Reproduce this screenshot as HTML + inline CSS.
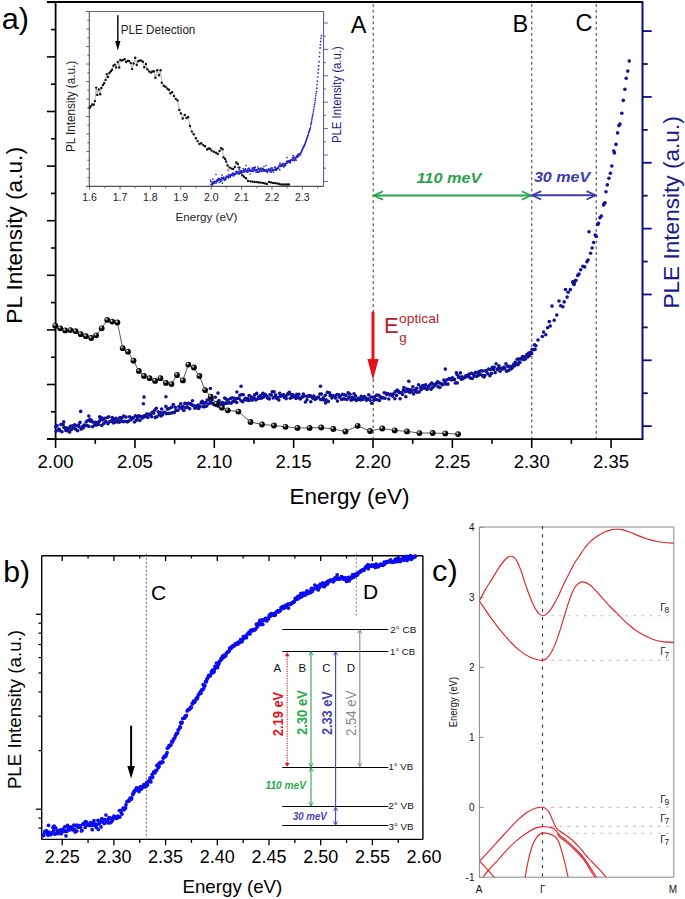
<!DOCTYPE html>
<html><head><meta charset="utf-8"><style>
html,body{margin:0;padding:0;background:#fff;}
body{width:685px;height:899px;overflow:hidden;}
svg{display:block;}
text{font-family:"Liberation Sans", sans-serif;}
</style></head><body>
<svg width="685" height="899" viewBox="0 0 685 899">
<defs>
<radialGradient id="ball" cx="0.36" cy="0.33" r="0.7">
<stop offset="0" stop-color="#fff"/><stop offset="0.18" stop-color="#888"/><stop offset="0.42" stop-color="#0a0a0a"/><stop offset="1" stop-color="#000"/>
</radialGradient>
<clipPath id="cclip"><rect x="479.4" y="527" width="194.4" height="350.2"/></clipPath>
</defs>
<rect width="685" height="899" fill="#fff"/>
<line x1="47.00" y1="2.00" x2="642.50" y2="2.00" stroke="#000" stroke-width="1.8" />
<line x1="55.60" y1="2.00" x2="55.60" y2="439.10" stroke="#000" stroke-width="1.8" />
<line x1="47.00" y1="439.10" x2="643.50" y2="439.10" stroke="#000" stroke-width="1.8" />
<line x1="642.50" y1="1.10" x2="642.50" y2="439.10" stroke="#0c0c84" stroke-width="2.0" />
<line x1="46.90" y1="439.10" x2="55.60" y2="439.10" stroke="#000" stroke-width="1.6" />
<line x1="51.00" y1="411.80" x2="55.60" y2="411.80" stroke="#000" stroke-width="1.6" />
<line x1="46.90" y1="384.50" x2="55.60" y2="384.50" stroke="#000" stroke-width="1.6" />
<line x1="51.00" y1="357.20" x2="55.60" y2="357.20" stroke="#000" stroke-width="1.6" />
<line x1="46.90" y1="329.90" x2="55.60" y2="329.90" stroke="#000" stroke-width="1.6" />
<line x1="51.00" y1="302.60" x2="55.60" y2="302.60" stroke="#000" stroke-width="1.6" />
<line x1="46.90" y1="275.30" x2="55.60" y2="275.30" stroke="#000" stroke-width="1.6" />
<line x1="51.00" y1="248.00" x2="55.60" y2="248.00" stroke="#000" stroke-width="1.6" />
<line x1="46.90" y1="220.70" x2="55.60" y2="220.70" stroke="#000" stroke-width="1.6" />
<line x1="51.00" y1="193.40" x2="55.60" y2="193.40" stroke="#000" stroke-width="1.6" />
<line x1="46.90" y1="166.10" x2="55.60" y2="166.10" stroke="#000" stroke-width="1.6" />
<line x1="51.00" y1="138.80" x2="55.60" y2="138.80" stroke="#000" stroke-width="1.6" />
<line x1="46.90" y1="111.50" x2="55.60" y2="111.50" stroke="#000" stroke-width="1.6" />
<line x1="51.00" y1="84.20" x2="55.60" y2="84.20" stroke="#000" stroke-width="1.6" />
<line x1="46.90" y1="56.90" x2="55.60" y2="56.90" stroke="#000" stroke-width="1.6" />
<line x1="51.00" y1="29.60" x2="55.60" y2="29.60" stroke="#000" stroke-width="1.6" />
<line x1="46.90" y1="2.30" x2="55.60" y2="2.30" stroke="#000" stroke-width="1.6" />
<line x1="55.60" y1="439.10" x2="55.60" y2="447.90" stroke="#000" stroke-width="1.6" />
<line x1="95.27" y1="439.10" x2="95.27" y2="443.80" stroke="#000" stroke-width="1.6" />
<line x1="134.95" y1="439.10" x2="134.95" y2="447.90" stroke="#000" stroke-width="1.6" />
<line x1="174.63" y1="439.10" x2="174.63" y2="443.80" stroke="#000" stroke-width="1.6" />
<line x1="214.30" y1="439.10" x2="214.30" y2="447.90" stroke="#000" stroke-width="1.6" />
<line x1="253.97" y1="439.10" x2="253.97" y2="443.80" stroke="#000" stroke-width="1.6" />
<line x1="293.65" y1="439.10" x2="293.65" y2="447.90" stroke="#000" stroke-width="1.6" />
<line x1="333.32" y1="439.10" x2="333.32" y2="443.80" stroke="#000" stroke-width="1.6" />
<line x1="373.00" y1="439.10" x2="373.00" y2="447.90" stroke="#000" stroke-width="1.6" />
<line x1="412.68" y1="439.10" x2="412.68" y2="443.80" stroke="#000" stroke-width="1.6" />
<line x1="452.35" y1="439.10" x2="452.35" y2="447.90" stroke="#000" stroke-width="1.6" />
<line x1="492.02" y1="439.10" x2="492.02" y2="443.80" stroke="#000" stroke-width="1.6" />
<line x1="531.70" y1="439.10" x2="531.70" y2="447.90" stroke="#000" stroke-width="1.6" />
<line x1="571.38" y1="439.10" x2="571.38" y2="443.80" stroke="#000" stroke-width="1.6" />
<line x1="611.05" y1="439.10" x2="611.05" y2="447.90" stroke="#000" stroke-width="1.6" />
<line x1="642.50" y1="31.10" x2="651.70" y2="31.10" stroke="#0c0c84" stroke-width="1.8" />
<line x1="642.50" y1="64.02" x2="647.70" y2="64.02" stroke="#0c0c84" stroke-width="1.8" />
<line x1="642.50" y1="96.94" x2="651.70" y2="96.94" stroke="#0c0c84" stroke-width="1.8" />
<line x1="642.50" y1="129.86" x2="647.70" y2="129.86" stroke="#0c0c84" stroke-width="1.8" />
<line x1="642.50" y1="162.78" x2="651.70" y2="162.78" stroke="#0c0c84" stroke-width="1.8" />
<line x1="642.50" y1="195.70" x2="647.70" y2="195.70" stroke="#0c0c84" stroke-width="1.8" />
<line x1="642.50" y1="228.62" x2="651.70" y2="228.62" stroke="#0c0c84" stroke-width="1.8" />
<line x1="642.50" y1="261.54" x2="647.70" y2="261.54" stroke="#0c0c84" stroke-width="1.8" />
<line x1="642.50" y1="294.46" x2="651.70" y2="294.46" stroke="#0c0c84" stroke-width="1.8" />
<line x1="642.50" y1="327.38" x2="647.70" y2="327.38" stroke="#0c0c84" stroke-width="1.8" />
<line x1="642.50" y1="360.30" x2="651.70" y2="360.30" stroke="#0c0c84" stroke-width="1.8" />
<line x1="642.50" y1="393.22" x2="647.70" y2="393.22" stroke="#0c0c84" stroke-width="1.8" />
<line x1="642.50" y1="426.14" x2="651.70" y2="426.14" stroke="#0c0c84" stroke-width="1.8" />
<text x="55.60" y="467.70" font-size="18.50" fill="#000" text-anchor="middle" font-weight="normal" font-style="normal" >2.00</text>
<text x="134.90" y="467.70" font-size="18.50" fill="#000" text-anchor="middle" font-weight="normal" font-style="normal" >2.05</text>
<text x="214.30" y="467.70" font-size="18.50" fill="#000" text-anchor="middle" font-weight="normal" font-style="normal" >2.10</text>
<text x="293.60" y="467.70" font-size="18.50" fill="#000" text-anchor="middle" font-weight="normal" font-style="normal" >2.15</text>
<text x="373.00" y="467.70" font-size="18.50" fill="#000" text-anchor="middle" font-weight="normal" font-style="normal" >2.20</text>
<text x="452.40" y="467.70" font-size="18.50" fill="#000" text-anchor="middle" font-weight="normal" font-style="normal" >2.25</text>
<text x="531.70" y="467.70" font-size="18.50" fill="#000" text-anchor="middle" font-weight="normal" font-style="normal" >2.30</text>
<text x="611.10" y="467.70" font-size="18.50" fill="#000" text-anchor="middle" font-weight="normal" font-style="normal" >2.35</text>
<text x="289.60" y="503.80" font-size="22.20" fill="#000" text-anchor="start" font-weight="normal" font-style="normal" textLength="119.83" lengthAdjust="spacingAndGlyphs" >Energy (eV)</text>
<text x="21.70" y="323.70" font-size="22.50" fill="#000" text-anchor="start" font-weight="normal" font-style="normal" textLength="176.65" lengthAdjust="spacingAndGlyphs" transform="rotate(-90 21.70 323.70)" >PL Intensity (a.u.)</text>
<text x="678.70" y="308.60" font-size="22.30" fill="#1a1a8c" text-anchor="start" font-weight="normal" font-style="normal" textLength="192.36" lengthAdjust="spacingAndGlyphs" transform="rotate(-90 678.70 308.60)" >PLE Intensity (a.u.)</text>
<text x="1.80" y="28.50" font-size="29.00" fill="#000" text-anchor="start" font-weight="normal" font-style="normal" textLength="27.31" lengthAdjust="spacingAndGlyphs" >a)</text>
<line x1="373.20" y1="4.10" x2="373.20" y2="438.10" stroke="#333" stroke-width="1.0" stroke-dasharray="2.8 2.97"/>
<line x1="531.80" y1="4.10" x2="531.80" y2="438.10" stroke="#333" stroke-width="1.0" stroke-dasharray="2.8 2.97"/>
<line x1="596.20" y1="4.10" x2="596.20" y2="438.10" stroke="#333" stroke-width="1.0" stroke-dasharray="2.8 2.97"/>
<text x="350.80" y="33.20" font-size="23.50" fill="#000" text-anchor="start" font-weight="normal" font-style="normal" >A</text>
<text x="512.60" y="31.80" font-size="23.50" fill="#000" text-anchor="start" font-weight="normal" font-style="normal" >B</text>
<text x="575.60" y="30.90" font-size="23.50" fill="#000" text-anchor="start" font-weight="normal" font-style="normal" >C</text>
<line x1="374.20" y1="195.50" x2="530.60" y2="195.50" stroke="#2ba24c" stroke-width="1.9" />
<polyline points="383.0,191.3 374.0,195.5 383.0,199.7" fill="none" stroke="#2ba24c" stroke-width="1.8" stroke-linejoin="miter"/>
<polyline points="521.8,191.3 530.8,195.5 521.8,199.7" fill="none" stroke="#2ba24c" stroke-width="1.8" stroke-linejoin="miter"/>
<line x1="532.20" y1="195.30" x2="595.30" y2="195.30" stroke="#3b3bb0" stroke-width="1.9" />
<polyline points="541.2,191.10000000000002 532.2,195.3 541.2,199.5" fill="none" stroke="#3b3bb0" stroke-width="1.8" stroke-linejoin="miter"/>
<polyline points="586.6,191.10000000000002 595.6,195.3 586.6,199.5" fill="none" stroke="#3b3bb0" stroke-width="1.8" stroke-linejoin="miter"/>
<text x="416.50" y="183.10" font-size="15.50" fill="#2ba24c" text-anchor="start" font-weight="bold" font-style="italic" textLength="64.94" lengthAdjust="spacingAndGlyphs" >110 meV</text>
<text x="533.90" y="181.60" font-size="15.50" fill="#3b3bb0" text-anchor="start" font-weight="bold" font-style="italic" textLength="56.44" lengthAdjust="spacingAndGlyphs" >30 meV</text>
<rect x="371.5" y="311.7" width="3" height="49" fill="#e3121b"/>
<polygon points="367.4,359.1 378.6,359.1 373,380" fill="#e3121b"/>
<text x="384.10" y="333.00" font-size="22.00" fill="#b0232a" text-anchor="start" font-weight="normal" font-style="normal" >E</text>
<text x="399.10" y="323.00" font-size="13.10" fill="#b0232a" text-anchor="start" font-weight="normal" font-style="normal" textLength="39.94" lengthAdjust="spacingAndGlyphs" >optical</text>
<text x="399.35" y="341.95" font-size="13.40" fill="#b0232a" text-anchor="start" font-weight="normal" font-style="normal" >g</text>
<g fill="#10109a">
<circle cx="55.6" cy="426.7" r="1.8"/>
<circle cx="56.2" cy="431.0" r="1.8"/>
<circle cx="57.1" cy="425.6" r="1.8"/>
<circle cx="58.4" cy="429.8" r="1.8"/>
<circle cx="59.0" cy="429.0" r="1.8"/>
<circle cx="60.0" cy="430.7" r="1.8"/>
<circle cx="61.0" cy="424.5" r="1.8"/>
<circle cx="62.0" cy="431.8" r="1.8"/>
<circle cx="63.1" cy="424.5" r="1.8"/>
<circle cx="64.0" cy="427.4" r="1.8"/>
<circle cx="65.2" cy="427.9" r="1.8"/>
<circle cx="65.8" cy="430.4" r="1.8"/>
<circle cx="66.8" cy="428.0" r="1.8"/>
<circle cx="68.0" cy="431.1" r="1.8"/>
<circle cx="68.9" cy="428.2" r="1.8"/>
<circle cx="69.7" cy="432.1" r="1.8"/>
<circle cx="70.4" cy="426.3" r="1.8"/>
<circle cx="71.5" cy="429.5" r="1.8"/>
<circle cx="72.5" cy="425.7" r="1.8"/>
<circle cx="73.6" cy="427.6" r="1.8"/>
<circle cx="74.7" cy="424.7" r="1.8"/>
<circle cx="75.6" cy="429.3" r="1.8"/>
<circle cx="76.4" cy="425.8" r="1.8"/>
<circle cx="77.6" cy="430.7" r="1.8"/>
<circle cx="78.6" cy="425.1" r="1.8"/>
<circle cx="79.0" cy="426.7" r="1.8"/>
<circle cx="80.0" cy="422.4" r="1.8"/>
<circle cx="81.1" cy="429.1" r="1.8"/>
<circle cx="82.3" cy="426.9" r="1.8"/>
<circle cx="83.1" cy="427.9" r="1.8"/>
<circle cx="84.1" cy="425.1" r="1.8"/>
<circle cx="85.0" cy="425.8" r="1.8"/>
<circle cx="86.1" cy="422.0" r="1.8"/>
<circle cx="87.1" cy="425.5" r="1.8"/>
<circle cx="87.5" cy="420.7" r="1.8"/>
<circle cx="88.9" cy="426.4" r="1.8"/>
<circle cx="89.9" cy="419.5" r="1.8"/>
<circle cx="90.5" cy="421.3" r="1.8"/>
<circle cx="91.3" cy="420.4" r="1.8"/>
<circle cx="92.5" cy="426.7" r="1.8"/>
<circle cx="93.2" cy="422.3" r="1.8"/>
<circle cx="94.6" cy="425.3" r="1.8"/>
<circle cx="95.3" cy="422.2" r="1.8"/>
<circle cx="96.6" cy="425.0" r="1.8"/>
<circle cx="97.3" cy="422.5" r="1.8"/>
<circle cx="98.5" cy="424.5" r="1.8"/>
<circle cx="99.1" cy="421.8" r="1.8"/>
<circle cx="100.1" cy="420.0" r="1.8"/>
<circle cx="101.4" cy="417.7" r="1.8"/>
<circle cx="101.8" cy="425.4" r="1.8"/>
<circle cx="102.8" cy="420.0" r="1.8"/>
<circle cx="103.9" cy="423.5" r="1.8"/>
<circle cx="104.6" cy="418.2" r="1.8"/>
<circle cx="105.8" cy="421.6" r="1.8"/>
<circle cx="107.1" cy="417.7" r="1.8"/>
<circle cx="107.9" cy="423.8" r="1.8"/>
<circle cx="108.8" cy="416.8" r="1.8"/>
<circle cx="109.4" cy="421.8" r="1.8"/>
<circle cx="110.8" cy="421.4" r="1.8"/>
<circle cx="111.7" cy="420.2" r="1.8"/>
<circle cx="112.3" cy="417.6" r="1.8"/>
<circle cx="113.5" cy="422.9" r="1.8"/>
<circle cx="114.2" cy="419.4" r="1.8"/>
<circle cx="115.1" cy="421.9" r="1.8"/>
<circle cx="116.0" cy="418.3" r="1.8"/>
<circle cx="117.0" cy="422.0" r="1.8"/>
<circle cx="117.9" cy="419.8" r="1.8"/>
<circle cx="119.4" cy="422.3" r="1.8"/>
<circle cx="120.0" cy="417.6" r="1.8"/>
<circle cx="121.0" cy="420.6" r="1.8"/>
<circle cx="122.2" cy="417.6" r="1.8"/>
<circle cx="123.2" cy="421.7" r="1.8"/>
<circle cx="123.7" cy="416.1" r="1.8"/>
<circle cx="124.6" cy="421.3" r="1.8"/>
<circle cx="126.0" cy="417.1" r="1.8"/>
<circle cx="126.5" cy="421.8" r="1.8"/>
<circle cx="127.7" cy="421.7" r="1.8"/>
<circle cx="128.4" cy="421.0" r="1.8"/>
<circle cx="129.6" cy="416.8" r="1.8"/>
<circle cx="130.8" cy="420.0" r="1.8"/>
<circle cx="131.4" cy="418.7" r="1.8"/>
<circle cx="132.4" cy="417.8" r="1.8"/>
<circle cx="133.4" cy="418.1" r="1.8"/>
<circle cx="134.5" cy="422.0" r="1.8"/>
<circle cx="135.5" cy="415.8" r="1.8"/>
<circle cx="136.5" cy="420.3" r="1.8"/>
<circle cx="137.4" cy="417.9" r="1.8"/>
<circle cx="138.3" cy="416.4" r="1.8"/>
<circle cx="139.0" cy="415.9" r="1.8"/>
<circle cx="139.8" cy="420.4" r="1.8"/>
<circle cx="140.9" cy="416.5" r="1.8"/>
<circle cx="142.1" cy="418.1" r="1.8"/>
<circle cx="143.2" cy="416.4" r="1.8"/>
<circle cx="144.1" cy="416.9" r="1.8"/>
<circle cx="144.6" cy="415.7" r="1.8"/>
<circle cx="145.6" cy="416.5" r="1.8"/>
<circle cx="146.8" cy="414.0" r="1.8"/>
<circle cx="147.9" cy="417.5" r="1.8"/>
<circle cx="148.7" cy="414.2" r="1.8"/>
<circle cx="149.7" cy="414.3" r="1.8"/>
<circle cx="150.7" cy="414.9" r="1.8"/>
<circle cx="151.6" cy="416.8" r="1.8"/>
<circle cx="152.2" cy="412.3" r="1.8"/>
<circle cx="153.5" cy="413.2" r="1.8"/>
<circle cx="154.6" cy="410.4" r="1.8"/>
<circle cx="155.2" cy="417.4" r="1.8"/>
<circle cx="156.3" cy="408.2" r="1.8"/>
<circle cx="157.0" cy="416.7" r="1.8"/>
<circle cx="158.3" cy="411.8" r="1.8"/>
<circle cx="159.2" cy="414.6" r="1.8"/>
<circle cx="160.3" cy="412.6" r="1.8"/>
<circle cx="161.0" cy="416.0" r="1.8"/>
<circle cx="161.7" cy="409.0" r="1.8"/>
<circle cx="162.6" cy="414.8" r="1.8"/>
<circle cx="163.8" cy="412.3" r="1.8"/>
<circle cx="165.0" cy="412.3" r="1.8"/>
<circle cx="165.9" cy="406.4" r="1.8"/>
<circle cx="166.5" cy="413.7" r="1.8"/>
<circle cx="167.4" cy="409.1" r="1.8"/>
<circle cx="168.6" cy="413.4" r="1.8"/>
<circle cx="169.3" cy="408.6" r="1.8"/>
<circle cx="170.7" cy="413.3" r="1.8"/>
<circle cx="171.5" cy="407.2" r="1.8"/>
<circle cx="172.6" cy="412.6" r="1.8"/>
<circle cx="173.3" cy="404.6" r="1.8"/>
<circle cx="174.3" cy="412.6" r="1.8"/>
<circle cx="175.2" cy="407.3" r="1.8"/>
<circle cx="176.0" cy="410.4" r="1.8"/>
<circle cx="176.9" cy="410.3" r="1.8"/>
<circle cx="178.0" cy="410.2" r="1.8"/>
<circle cx="178.9" cy="406.6" r="1.8"/>
<circle cx="180.0" cy="407.6" r="1.8"/>
<circle cx="180.7" cy="403.8" r="1.8"/>
<circle cx="181.9" cy="408.4" r="1.8"/>
<circle cx="183.0" cy="406.3" r="1.8"/>
<circle cx="183.8" cy="410.5" r="1.8"/>
<circle cx="184.9" cy="403.3" r="1.8"/>
<circle cx="185.6" cy="407.7" r="1.8"/>
<circle cx="186.6" cy="404.0" r="1.8"/>
<circle cx="187.7" cy="407.1" r="1.8"/>
<circle cx="188.5" cy="403.2" r="1.8"/>
<circle cx="189.7" cy="408.7" r="1.8"/>
<circle cx="190.7" cy="403.8" r="1.8"/>
<circle cx="191.2" cy="404.4" r="1.8"/>
<circle cx="192.5" cy="400.7" r="1.8"/>
<circle cx="193.0" cy="405.8" r="1.8"/>
<circle cx="193.9" cy="405.5" r="1.8"/>
<circle cx="195.0" cy="408.2" r="1.8"/>
<circle cx="196.3" cy="406.0" r="1.8"/>
<circle cx="197.3" cy="407.7" r="1.8"/>
<circle cx="198.1" cy="405.0" r="1.8"/>
<circle cx="198.7" cy="408.5" r="1.8"/>
<circle cx="199.7" cy="406.4" r="1.8"/>
<circle cx="201.1" cy="402.9" r="1.8"/>
<circle cx="202.1" cy="401.2" r="1.8"/>
<circle cx="202.9" cy="406.8" r="1.8"/>
<circle cx="203.7" cy="403.4" r="1.8"/>
<circle cx="204.6" cy="406.8" r="1.8"/>
<circle cx="205.7" cy="402.6" r="1.8"/>
<circle cx="206.3" cy="406.3" r="1.8"/>
<circle cx="207.2" cy="400.0" r="1.8"/>
<circle cx="208.3" cy="404.0" r="1.8"/>
<circle cx="209.1" cy="400.0" r="1.8"/>
<circle cx="210.6" cy="402.9" r="1.8"/>
<circle cx="211.1" cy="402.3" r="1.8"/>
<circle cx="212.1" cy="399.6" r="1.8"/>
<circle cx="213.1" cy="403.8" r="1.8"/>
<circle cx="213.9" cy="404.5" r="1.8"/>
<circle cx="215.3" cy="397.3" r="1.8"/>
<circle cx="215.9" cy="405.2" r="1.8"/>
<circle cx="217.0" cy="402.6" r="1.8"/>
<circle cx="218.1" cy="406.3" r="1.8"/>
<circle cx="219.0" cy="400.6" r="1.8"/>
<circle cx="219.8" cy="403.3" r="1.8"/>
<circle cx="220.9" cy="403.5" r="1.8"/>
<circle cx="221.9" cy="404.6" r="1.8"/>
<circle cx="222.4" cy="402.6" r="1.8"/>
<circle cx="223.9" cy="404.3" r="1.8"/>
<circle cx="224.6" cy="398.1" r="1.8"/>
<circle cx="225.8" cy="402.9" r="1.8"/>
<circle cx="226.5" cy="399.3" r="1.8"/>
<circle cx="227.3" cy="403.2" r="1.8"/>
<circle cx="228.1" cy="400.0" r="1.8"/>
<circle cx="229.2" cy="402.8" r="1.8"/>
<circle cx="230.5" cy="398.5" r="1.8"/>
<circle cx="231.1" cy="403.3" r="1.8"/>
<circle cx="232.1" cy="397.7" r="1.8"/>
<circle cx="232.9" cy="401.6" r="1.8"/>
<circle cx="234.2" cy="398.4" r="1.8"/>
<circle cx="235.1" cy="401.5" r="1.8"/>
<circle cx="236.3" cy="398.7" r="1.8"/>
<circle cx="236.7" cy="402.5" r="1.8"/>
<circle cx="237.9" cy="398.2" r="1.8"/>
<circle cx="239.1" cy="398.5" r="1.8"/>
<circle cx="239.9" cy="395.3" r="1.8"/>
<circle cx="241.0" cy="400.8" r="1.8"/>
<circle cx="241.8" cy="394.5" r="1.8"/>
<circle cx="242.7" cy="401.7" r="1.8"/>
<circle cx="243.3" cy="394.7" r="1.8"/>
<circle cx="244.3" cy="399.8" r="1.8"/>
<circle cx="245.4" cy="398.4" r="1.8"/>
<circle cx="246.2" cy="400.0" r="1.8"/>
<circle cx="247.6" cy="398.6" r="1.8"/>
<circle cx="248.5" cy="400.4" r="1.8"/>
<circle cx="249.2" cy="395.5" r="1.8"/>
<circle cx="250.2" cy="399.9" r="1.8"/>
<circle cx="251.1" cy="396.7" r="1.8"/>
<circle cx="252.4" cy="400.1" r="1.8"/>
<circle cx="252.9" cy="397.7" r="1.8"/>
<circle cx="254.3" cy="398.2" r="1.8"/>
<circle cx="254.7" cy="394.9" r="1.8"/>
<circle cx="255.9" cy="399.9" r="1.8"/>
<circle cx="256.7" cy="393.4" r="1.8"/>
<circle cx="257.9" cy="398.7" r="1.8"/>
<circle cx="258.6" cy="396.7" r="1.8"/>
<circle cx="259.7" cy="398.3" r="1.8"/>
<circle cx="260.6" cy="395.6" r="1.8"/>
<circle cx="261.5" cy="398.3" r="1.8"/>
<circle cx="262.8" cy="393.4" r="1.8"/>
<circle cx="263.6" cy="397.1" r="1.8"/>
<circle cx="264.4" cy="394.3" r="1.8"/>
<circle cx="265.3" cy="394.6" r="1.8"/>
<circle cx="266.5" cy="396.0" r="1.8"/>
<circle cx="267.4" cy="397.9" r="1.8"/>
<circle cx="268.5" cy="398.1" r="1.8"/>
<circle cx="269.3" cy="398.9" r="1.8"/>
<circle cx="270.0" cy="394.7" r="1.8"/>
<circle cx="271.2" cy="394.9" r="1.8"/>
<circle cx="272.3" cy="391.8" r="1.8"/>
<circle cx="273.2" cy="397.9" r="1.8"/>
<circle cx="274.1" cy="391.9" r="1.8"/>
<circle cx="275.1" cy="396.2" r="1.8"/>
<circle cx="275.7" cy="395.1" r="1.8"/>
<circle cx="276.8" cy="398.4" r="1.8"/>
<circle cx="277.8" cy="397.6" r="1.8"/>
<circle cx="278.8" cy="400.0" r="1.8"/>
<circle cx="279.7" cy="393.2" r="1.8"/>
<circle cx="280.4" cy="396.2" r="1.8"/>
<circle cx="281.6" cy="395.8" r="1.8"/>
<circle cx="282.6" cy="395.3" r="1.8"/>
<circle cx="283.6" cy="394.7" r="1.8"/>
<circle cx="284.3" cy="397.5" r="1.8"/>
<circle cx="285.5" cy="396.2" r="1.8"/>
<circle cx="286.2" cy="398.6" r="1.8"/>
<circle cx="287.3" cy="394.7" r="1.8"/>
<circle cx="288.2" cy="393.4" r="1.8"/>
<circle cx="289.4" cy="392.4" r="1.8"/>
<circle cx="290.2" cy="398.3" r="1.8"/>
<circle cx="290.9" cy="394.6" r="1.8"/>
<circle cx="291.9" cy="397.5" r="1.8"/>
<circle cx="293.0" cy="394.9" r="1.8"/>
<circle cx="293.7" cy="396.6" r="1.8"/>
<circle cx="295.0" cy="396.2" r="1.8"/>
<circle cx="296.0" cy="398.5" r="1.8"/>
<circle cx="296.8" cy="394.4" r="1.8"/>
<circle cx="297.7" cy="396.7" r="1.8"/>
<circle cx="298.9" cy="394.2" r="1.8"/>
<circle cx="299.5" cy="398.2" r="1.8"/>
<circle cx="300.3" cy="399.0" r="1.8"/>
<circle cx="301.5" cy="397.5" r="1.8"/>
<circle cx="302.5" cy="396.9" r="1.8"/>
<circle cx="303.3" cy="394.0" r="1.8"/>
<circle cx="304.2" cy="396.0" r="1.8"/>
<circle cx="305.4" cy="402.0" r="1.8"/>
<circle cx="306.6" cy="396.3" r="1.8"/>
<circle cx="307.0" cy="399.7" r="1.8"/>
<circle cx="308.4" cy="395.9" r="1.8"/>
<circle cx="309.3" cy="396.3" r="1.8"/>
<circle cx="310.1" cy="395.5" r="1.8"/>
<circle cx="310.8" cy="401.7" r="1.8"/>
<circle cx="312.0" cy="397.1" r="1.8"/>
<circle cx="312.8" cy="398.2" r="1.8"/>
<circle cx="313.8" cy="396.1" r="1.8"/>
<circle cx="315.1" cy="399.4" r="1.8"/>
<circle cx="316.0" cy="398.0" r="1.8"/>
<circle cx="316.5" cy="398.2" r="1.8"/>
<circle cx="317.9" cy="397.6" r="1.8"/>
<circle cx="318.5" cy="397.0" r="1.8"/>
<circle cx="319.9" cy="394.0" r="1.8"/>
<circle cx="320.6" cy="399.5" r="1.8"/>
<circle cx="321.4" cy="394.1" r="1.8"/>
<circle cx="322.2" cy="399.6" r="1.8"/>
<circle cx="323.3" cy="397.9" r="1.8"/>
<circle cx="324.6" cy="400.2" r="1.8"/>
<circle cx="325.3" cy="395.3" r="1.8"/>
<circle cx="326.1" cy="399.7" r="1.8"/>
<circle cx="327.4" cy="392.4" r="1.8"/>
<circle cx="328.3" cy="401.4" r="1.8"/>
<circle cx="329.4" cy="392.8" r="1.8"/>
<circle cx="330.1" cy="395.6" r="1.8"/>
<circle cx="331.1" cy="395.3" r="1.8"/>
<circle cx="331.9" cy="397.9" r="1.8"/>
<circle cx="332.8" cy="395.5" r="1.8"/>
<circle cx="333.6" cy="396.0" r="1.8"/>
<circle cx="334.8" cy="396.2" r="1.8"/>
<circle cx="335.7" cy="398.1" r="1.8"/>
<circle cx="337.0" cy="394.6" r="1.8"/>
<circle cx="337.5" cy="401.1" r="1.8"/>
<circle cx="338.6" cy="394.7" r="1.8"/>
<circle cx="339.5" cy="397.3" r="1.8"/>
<circle cx="340.3" cy="396.0" r="1.8"/>
<circle cx="341.7" cy="399.5" r="1.8"/>
<circle cx="342.6" cy="394.4" r="1.8"/>
<circle cx="343.6" cy="398.7" r="1.8"/>
<circle cx="344.1" cy="394.8" r="1.8"/>
<circle cx="345.0" cy="399.0" r="1.8"/>
<circle cx="346.0" cy="395.4" r="1.8"/>
<circle cx="347.0" cy="399.5" r="1.8"/>
<circle cx="348.2" cy="392.7" r="1.8"/>
<circle cx="349.0" cy="397.4" r="1.8"/>
<circle cx="349.9" cy="394.2" r="1.8"/>
<circle cx="350.9" cy="400.1" r="1.8"/>
<circle cx="352.2" cy="397.3" r="1.8"/>
<circle cx="352.6" cy="399.6" r="1.8"/>
<circle cx="354.0" cy="393.7" r="1.8"/>
<circle cx="354.6" cy="399.1" r="1.8"/>
<circle cx="355.6" cy="396.1" r="1.8"/>
<circle cx="356.6" cy="400.5" r="1.8"/>
<circle cx="357.8" cy="399.5" r="1.8"/>
<circle cx="358.3" cy="398.4" r="1.8"/>
<circle cx="359.7" cy="399.0" r="1.8"/>
<circle cx="360.4" cy="400.0" r="1.8"/>
<circle cx="361.3" cy="396.4" r="1.8"/>
<circle cx="362.6" cy="399.5" r="1.8"/>
<circle cx="363.6" cy="398.1" r="1.8"/>
<circle cx="364.1" cy="396.6" r="1.8"/>
<circle cx="365.2" cy="397.4" r="1.8"/>
<circle cx="366.3" cy="400.3" r="1.8"/>
<circle cx="367.2" cy="399.3" r="1.8"/>
<circle cx="368.2" cy="398.8" r="1.8"/>
<circle cx="368.7" cy="394.7" r="1.8"/>
<circle cx="370.1" cy="400.2" r="1.8"/>
<circle cx="371.0" cy="397.0" r="1.8"/>
<circle cx="371.7" cy="403.3" r="1.8"/>
<circle cx="372.9" cy="397.3" r="1.8"/>
<circle cx="373.9" cy="400.2" r="1.8"/>
<circle cx="374.7" cy="396.7" r="1.8"/>
<circle cx="375.7" cy="399.5" r="1.8"/>
<circle cx="376.7" cy="395.1" r="1.8"/>
<circle cx="377.3" cy="399.7" r="1.8"/>
<circle cx="378.8" cy="395.2" r="1.8"/>
<circle cx="379.5" cy="400.5" r="1.8"/>
<circle cx="380.2" cy="397.1" r="1.8"/>
<circle cx="381.2" cy="397.3" r="1.8"/>
<circle cx="382.2" cy="398.0" r="1.8"/>
<circle cx="383.0" cy="397.7" r="1.8"/>
<circle cx="384.2" cy="392.7" r="1.8"/>
<circle cx="385.0" cy="398.2" r="1.8"/>
<circle cx="385.9" cy="393.2" r="1.8"/>
<circle cx="386.8" cy="394.6" r="1.8"/>
<circle cx="388.1" cy="393.8" r="1.8"/>
<circle cx="388.8" cy="399.0" r="1.8"/>
<circle cx="389.9" cy="395.0" r="1.8"/>
<circle cx="390.7" cy="394.3" r="1.8"/>
<circle cx="392.0" cy="395.1" r="1.8"/>
<circle cx="392.6" cy="396.1" r="1.8"/>
<circle cx="393.6" cy="393.7" r="1.8"/>
<circle cx="394.9" cy="398.7" r="1.8"/>
<circle cx="395.4" cy="391.5" r="1.8"/>
<circle cx="396.5" cy="395.4" r="1.8"/>
<circle cx="397.3" cy="390.0" r="1.8"/>
<circle cx="398.4" cy="391.3" r="1.8"/>
<circle cx="399.2" cy="392.6" r="1.8"/>
<circle cx="400.1" cy="398.8" r="1.8"/>
<circle cx="401.5" cy="392.6" r="1.8"/>
<circle cx="402.5" cy="394.5" r="1.8"/>
<circle cx="403.5" cy="390.0" r="1.8"/>
<circle cx="404.0" cy="387.6" r="1.8"/>
<circle cx="405.2" cy="391.8" r="1.8"/>
<circle cx="405.8" cy="396.7" r="1.8"/>
<circle cx="406.9" cy="389.0" r="1.8"/>
<circle cx="407.8" cy="391.2" r="1.8"/>
<circle cx="408.8" cy="389.5" r="1.8"/>
<circle cx="409.8" cy="392.4" r="1.8"/>
<circle cx="411.1" cy="389.9" r="1.8"/>
<circle cx="411.6" cy="391.6" r="1.8"/>
<circle cx="412.9" cy="386.7" r="1.8"/>
<circle cx="413.6" cy="393.9" r="1.8"/>
<circle cx="414.5" cy="390.1" r="1.8"/>
<circle cx="415.8" cy="391.6" r="1.8"/>
<circle cx="416.7" cy="388.4" r="1.8"/>
<circle cx="417.2" cy="392.2" r="1.8"/>
<circle cx="418.6" cy="384.8" r="1.8"/>
<circle cx="419.1" cy="391.9" r="1.8"/>
<circle cx="420.6" cy="387.6" r="1.8"/>
<circle cx="421.1" cy="389.8" r="1.8"/>
<circle cx="422.1" cy="386.4" r="1.8"/>
<circle cx="423.0" cy="385.6" r="1.8"/>
<circle cx="424.0" cy="388.3" r="1.8"/>
<circle cx="425.2" cy="388.1" r="1.8"/>
<circle cx="425.7" cy="384.9" r="1.8"/>
<circle cx="427.1" cy="389.5" r="1.8"/>
<circle cx="428.2" cy="387.1" r="1.8"/>
<circle cx="428.6" cy="386.6" r="1.8"/>
<circle cx="430.1" cy="384.7" r="1.8"/>
<circle cx="431.0" cy="389.2" r="1.8"/>
<circle cx="431.7" cy="383.1" r="1.8"/>
<circle cx="432.6" cy="387.6" r="1.8"/>
<circle cx="433.8" cy="384.5" r="1.8"/>
<circle cx="434.7" cy="385.8" r="1.8"/>
<circle cx="435.6" cy="384.3" r="1.8"/>
<circle cx="436.3" cy="383.2" r="1.8"/>
<circle cx="437.6" cy="381.8" r="1.8"/>
<circle cx="438.1" cy="386.7" r="1.8"/>
<circle cx="439.1" cy="382.9" r="1.8"/>
<circle cx="440.0" cy="387.4" r="1.8"/>
<circle cx="441.1" cy="383.5" r="1.8"/>
<circle cx="442.4" cy="384.5" r="1.8"/>
<circle cx="443.0" cy="384.6" r="1.8"/>
<circle cx="443.8" cy="380.1" r="1.8"/>
<circle cx="445.1" cy="381.9" r="1.8"/>
<circle cx="445.9" cy="384.1" r="1.8"/>
<circle cx="447.0" cy="379.8" r="1.8"/>
<circle cx="448.0" cy="384.1" r="1.8"/>
<circle cx="448.9" cy="379.0" r="1.8"/>
<circle cx="449.5" cy="378.5" r="1.8"/>
<circle cx="450.7" cy="379.3" r="1.8"/>
<circle cx="451.6" cy="380.0" r="1.8"/>
<circle cx="452.4" cy="377.8" r="1.8"/>
<circle cx="453.4" cy="379.5" r="1.8"/>
<circle cx="454.5" cy="379.4" r="1.8"/>
<circle cx="455.3" cy="383.0" r="1.8"/>
<circle cx="456.4" cy="372.7" r="1.8"/>
<circle cx="457.2" cy="382.9" r="1.8"/>
<circle cx="458.6" cy="377.3" r="1.8"/>
<circle cx="459.0" cy="376.9" r="1.8"/>
<circle cx="460.4" cy="372.9" r="1.8"/>
<circle cx="461.4" cy="379.3" r="1.8"/>
<circle cx="461.9" cy="376.9" r="1.8"/>
<circle cx="462.9" cy="378.7" r="1.8"/>
<circle cx="464.3" cy="377.3" r="1.8"/>
<circle cx="464.9" cy="377.5" r="1.8"/>
<circle cx="465.8" cy="375.9" r="1.8"/>
<circle cx="467.0" cy="376.1" r="1.8"/>
<circle cx="467.9" cy="375.0" r="1.8"/>
<circle cx="468.8" cy="376.7" r="1.8"/>
<circle cx="469.5" cy="374.1" r="1.8"/>
<circle cx="470.5" cy="378.1" r="1.8"/>
<circle cx="471.7" cy="373.3" r="1.8"/>
<circle cx="472.4" cy="378.4" r="1.8"/>
<circle cx="473.6" cy="374.4" r="1.8"/>
<circle cx="474.3" cy="375.9" r="1.8"/>
<circle cx="475.6" cy="372.2" r="1.8"/>
<circle cx="476.4" cy="376.5" r="1.8"/>
<circle cx="477.2" cy="373.0" r="1.8"/>
<circle cx="478.3" cy="375.5" r="1.8"/>
<circle cx="479.0" cy="371.5" r="1.8"/>
<circle cx="480.3" cy="374.3" r="1.8"/>
<circle cx="481.0" cy="370.7" r="1.8"/>
<circle cx="482.3" cy="375.6" r="1.8"/>
<circle cx="482.9" cy="371.0" r="1.8"/>
<circle cx="483.9" cy="376.9" r="1.8"/>
<circle cx="484.8" cy="375.6" r="1.8"/>
<circle cx="485.7" cy="370.5" r="1.8"/>
<circle cx="486.5" cy="371.7" r="1.8"/>
<circle cx="488.0" cy="373.7" r="1.8"/>
<circle cx="488.6" cy="369.0" r="1.8"/>
<circle cx="489.9" cy="375.8" r="1.8"/>
<circle cx="490.3" cy="369.8" r="1.8"/>
<circle cx="491.6" cy="373.5" r="1.8"/>
<circle cx="492.3" cy="367.4" r="1.8"/>
<circle cx="493.5" cy="369.4" r="1.8"/>
<circle cx="494.2" cy="367.3" r="1.8"/>
<circle cx="495.2" cy="372.6" r="1.8"/>
<circle cx="496.1" cy="363.8" r="1.8"/>
<circle cx="497.2" cy="369.6" r="1.8"/>
<circle cx="498.0" cy="368.5" r="1.8"/>
<circle cx="498.9" cy="365.7" r="1.8"/>
<circle cx="500.1" cy="371.2" r="1.8"/>
<circle cx="500.8" cy="368.2" r="1.8"/>
<circle cx="502.2" cy="368.3" r="1.8"/>
<circle cx="503.0" cy="368.9" r="1.8"/>
<circle cx="504.1" cy="367.1" r="1.8"/>
<circle cx="504.7" cy="368.7" r="1.8"/>
<circle cx="506.0" cy="363.8" r="1.8"/>
<circle cx="506.6" cy="371.2" r="1.8"/>
<circle cx="507.7" cy="366.4" r="1.8"/>
<circle cx="508.6" cy="370.4" r="1.8"/>
<circle cx="509.7" cy="366.3" r="1.8"/>
<circle cx="510.8" cy="368.9" r="1.8"/>
<circle cx="511.7" cy="366.8" r="1.8"/>
<circle cx="512.2" cy="367.9" r="1.8"/>
<circle cx="513.5" cy="364.5" r="1.8"/>
<circle cx="514.4" cy="366.0" r="1.8"/>
<circle cx="515.3" cy="362.2" r="1.8"/>
<circle cx="516.3" cy="364.4" r="1.8"/>
<circle cx="517.2" cy="359.3" r="1.8"/>
<circle cx="518.1" cy="364.8" r="1.8"/>
<circle cx="519.1" cy="362.2" r="1.8"/>
<circle cx="519.9" cy="362.4" r="1.8"/>
<circle cx="521.0" cy="358.6" r="1.8"/>
<circle cx="521.8" cy="358.9" r="1.8"/>
<circle cx="522.7" cy="356.6" r="1.8"/>
<circle cx="523.8" cy="359.6" r="1.8"/>
<circle cx="524.8" cy="356.9" r="1.8"/>
<circle cx="525.5" cy="359.0" r="1.8"/>
<circle cx="526.8" cy="354.5" r="1.8"/>
<circle cx="527.8" cy="356.9" r="1.8"/>
<circle cx="528.6" cy="353.1" r="1.8"/>
<circle cx="529.5" cy="355.5" r="1.8"/>
<circle cx="530.7" cy="352.2" r="1.8"/>
<circle cx="531.7" cy="353.5" r="1.8"/>
<circle cx="532.2" cy="349.5" r="1.8"/>
<circle cx="533.6" cy="349.6" r="1.8"/>
<circle cx="534.5" cy="344.7" r="1.8"/>
<circle cx="535.0" cy="349.4" r="1.8"/>
<circle cx="535.9" cy="345.8" r="1.8"/>
<circle cx="538.0" cy="340.0" r="1.8"/>
<circle cx="542.3" cy="336.5" r="1.8"/>
<circle cx="545.8" cy="334.7" r="1.8"/>
<circle cx="543.6" cy="332.1" r="1.8"/>
<circle cx="547.6" cy="327.7" r="1.8"/>
<circle cx="550.2" cy="326.0" r="1.8"/>
<circle cx="549.3" cy="321.6" r="1.8"/>
<circle cx="554.2" cy="320.3" r="1.8"/>
<circle cx="556.8" cy="315.0" r="1.8"/>
<circle cx="552.0" cy="306.1" r="1.8"/>
<circle cx="562.9" cy="306.7" r="1.8"/>
<circle cx="560.7" cy="305.8" r="1.8"/>
<circle cx="564.2" cy="301.9" r="1.8"/>
<circle cx="559.0" cy="301.0" r="1.8"/>
<circle cx="567.1" cy="297.1" r="1.8"/>
<circle cx="568.2" cy="292.3" r="1.8"/>
<circle cx="570.4" cy="289.6" r="1.8"/>
<circle cx="565.5" cy="289.6" r="1.8"/>
<circle cx="573.9" cy="284.4" r="1.8"/>
<circle cx="573.0" cy="282.2" r="1.8"/>
<circle cx="575.2" cy="280.9" r="1.8"/>
<circle cx="574.2" cy="283.7" r="1.8"/>
<circle cx="572.8" cy="281.9" r="1.8"/>
<circle cx="575.9" cy="280.2" r="1.8"/>
<circle cx="577.7" cy="275.4" r="1.8"/>
<circle cx="579.0" cy="274.0" r="1.8"/>
<circle cx="580.7" cy="269.8" r="1.8"/>
<circle cx="582.9" cy="266.2" r="1.8"/>
<circle cx="584.7" cy="266.9" r="1.8"/>
<circle cx="586.9" cy="261.8" r="1.8"/>
<circle cx="588.0" cy="260.0" r="1.8"/>
<circle cx="590.6" cy="253.2" r="1.8"/>
<circle cx="592.1" cy="248.0" r="1.8"/>
<circle cx="593.6" cy="242.5" r="1.8"/>
<circle cx="595.2" cy="235.1" r="1.8"/>
<circle cx="596.3" cy="236.5" r="1.8"/>
<circle cx="589.0" cy="231.8" r="1.8"/>
<circle cx="597.8" cy="224.4" r="1.8"/>
<circle cx="598.4" cy="223.3" r="1.8"/>
<circle cx="600.0" cy="217.8" r="1.8"/>
<circle cx="601.3" cy="216.0" r="1.8"/>
<circle cx="603.6" cy="204.9" r="1.8"/>
<circle cx="604.4" cy="203.3" r="1.8"/>
<circle cx="605.0" cy="202.8" r="1.8"/>
<circle cx="606.0" cy="191.8" r="1.8"/>
<circle cx="607.3" cy="184.9" r="1.8"/>
<circle cx="608.9" cy="178.2" r="1.8"/>
<circle cx="610.4" cy="173.3" r="1.8"/>
<circle cx="611.8" cy="166.0" r="1.8"/>
<circle cx="613.8" cy="151.1" r="1.8"/>
<circle cx="614.4" cy="152.9" r="1.8"/>
<circle cx="616.0" cy="144.4" r="1.8"/>
<circle cx="617.6" cy="132.9" r="1.8"/>
<circle cx="618.9" cy="125.6" r="1.8"/>
<circle cx="620.0" cy="124.0" r="1.8"/>
<circle cx="621.8" cy="113.3" r="1.8"/>
<circle cx="623.3" cy="100.4" r="1.8"/>
<circle cx="624.9" cy="89.3" r="1.8"/>
<circle cx="626.2" cy="78.2" r="1.8"/>
<circle cx="627.8" cy="71.1" r="1.8"/>
<circle cx="629.3" cy="61.1" r="1.8"/>
<circle cx="63.7" cy="421.9" r="1.8"/>
<circle cx="80.7" cy="411.4" r="1.8"/>
<circle cx="88.8" cy="416.1" r="1.8"/>
<circle cx="99.6" cy="416.9" r="1.8"/>
<circle cx="144.0" cy="397.1" r="1.8"/>
<circle cx="165.9" cy="396.8" r="1.8"/>
<circle cx="143.4" cy="403.8" r="1.8"/>
<circle cx="210.4" cy="388.5" r="1.8"/>
<circle cx="218.0" cy="393.1" r="1.8"/>
<circle cx="241.1" cy="386.3" r="1.8"/>
<circle cx="236.9" cy="392.0" r="1.8"/>
<circle cx="320.5" cy="386.3" r="1.8"/>
<circle cx="325.6" cy="403.0" r="1.8"/>
<circle cx="408.8" cy="381.2" r="1.8"/>
<circle cx="445.3" cy="369.1" r="1.8"/>
<circle cx="457.0" cy="374.6" r="1.8"/>
<circle cx="519.0" cy="359.0" r="1.8"/>
</g>
<polyline points="55.3,325.7 60.2,328.3 65.2,330.4 70.4,330.1 75.7,331.2 80.7,334.2 85.9,336.2 91.2,338 96.1,335.3 101.7,328.3 107.2,319.9 112.2,321.6 117.4,322.5 122.7,348.2 128,351.7 133.5,360.7 138.8,371 144,375.9 149.6,378.2 155.1,380.9 160.4,378.2 165.9,382.9 171.5,384.1 177,375 182.9,380.4 188.3,364.6 193.9,367.5 199.4,376 205.1,390.1 210.7,396.7 216.2,403.7 221.9,407.7 227.7,410.3 238.4,411.6 250.5,422 262,424.5 273.9,425.5 285.5,426.8 297.5,427.9 309.6,427.9 321.2,427.5 333.3,429 345.4,431.5 357.6,425.8 370,431 382.3,428.5 394.7,430.4 407,431.4 419.4,433.1 432.6,433 445.3,433.4 458.1,434.1" fill="none" stroke="#222" stroke-width="0.75"/>
<g fill="url(#ball)">
<circle cx="55.3" cy="325.7" r="2.9"/>
<circle cx="60.2" cy="328.3" r="2.9"/>
<circle cx="65.2" cy="330.4" r="2.9"/>
<circle cx="70.4" cy="330.1" r="2.9"/>
<circle cx="75.7" cy="331.2" r="2.9"/>
<circle cx="80.7" cy="334.2" r="2.9"/>
<circle cx="85.9" cy="336.2" r="2.9"/>
<circle cx="91.2" cy="338" r="2.9"/>
<circle cx="96.1" cy="335.3" r="2.9"/>
<circle cx="101.7" cy="328.3" r="2.9"/>
<circle cx="107.2" cy="319.9" r="2.9"/>
<circle cx="112.2" cy="321.6" r="2.9"/>
<circle cx="117.4" cy="322.5" r="2.9"/>
<circle cx="122.7" cy="348.2" r="2.9"/>
<circle cx="128" cy="351.7" r="2.9"/>
<circle cx="133.5" cy="360.7" r="2.9"/>
<circle cx="138.8" cy="371" r="2.9"/>
<circle cx="144" cy="375.9" r="2.9"/>
<circle cx="149.6" cy="378.2" r="2.9"/>
<circle cx="155.1" cy="380.9" r="2.9"/>
<circle cx="160.4" cy="378.2" r="2.9"/>
<circle cx="165.9" cy="382.9" r="2.9"/>
<circle cx="171.5" cy="384.1" r="2.9"/>
<circle cx="177" cy="375" r="2.9"/>
<circle cx="182.9" cy="380.4" r="2.9"/>
<circle cx="188.3" cy="364.6" r="2.9"/>
<circle cx="193.9" cy="367.5" r="2.9"/>
<circle cx="199.4" cy="376" r="2.9"/>
<circle cx="205.1" cy="390.1" r="2.9"/>
<circle cx="210.7" cy="396.7" r="2.9"/>
<circle cx="216.2" cy="403.7" r="2.9"/>
<circle cx="221.9" cy="407.7" r="2.9"/>
<circle cx="227.7" cy="410.3" r="2.9"/>
<circle cx="238.4" cy="411.6" r="2.9"/>
<circle cx="250.5" cy="422" r="2.9"/>
<circle cx="262" cy="424.5" r="2.9"/>
<circle cx="273.9" cy="425.5" r="2.9"/>
<circle cx="285.5" cy="426.8" r="2.9"/>
<circle cx="297.5" cy="427.9" r="2.9"/>
<circle cx="309.6" cy="427.9" r="2.9"/>
<circle cx="321.2" cy="427.5" r="2.9"/>
<circle cx="333.3" cy="429" r="2.9"/>
<circle cx="345.4" cy="431.5" r="2.9"/>
<circle cx="357.6" cy="425.8" r="2.9"/>
<circle cx="370" cy="431" r="2.9"/>
<circle cx="382.3" cy="428.5" r="2.9"/>
<circle cx="394.7" cy="430.4" r="2.9"/>
<circle cx="407" cy="431.4" r="2.9"/>
<circle cx="419.4" cy="433.1" r="2.9"/>
<circle cx="432.6" cy="433" r="2.9"/>
<circle cx="445.3" cy="433.4" r="2.9"/>
<circle cx="458.1" cy="434.1" r="2.9"/>
</g>
<rect x="89.3" y="11.5" width="234.3" height="174.9" fill="#fff" stroke="none"/>
<line x1="85.80" y1="11.50" x2="323.60" y2="11.50" stroke="#666" stroke-width="1.1" />
<line x1="89.30" y1="11.50" x2="89.30" y2="186.40" stroke="#555" stroke-width="1.1" />
<line x1="86.30" y1="186.40" x2="323.60" y2="186.40" stroke="#555" stroke-width="1.1" />
<line x1="323.60" y1="11.50" x2="323.60" y2="186.40" stroke="#5050a0" stroke-width="1.0" />
<line x1="86.30" y1="186.40" x2="89.30" y2="186.40" stroke="#555" stroke-width="0.9" />
<line x1="87.30" y1="177.66" x2="89.30" y2="177.66" stroke="#555" stroke-width="0.9" />
<line x1="86.30" y1="168.92" x2="89.30" y2="168.92" stroke="#555" stroke-width="0.9" />
<line x1="87.30" y1="160.18" x2="89.30" y2="160.18" stroke="#555" stroke-width="0.9" />
<line x1="86.30" y1="151.44" x2="89.30" y2="151.44" stroke="#555" stroke-width="0.9" />
<line x1="87.30" y1="142.70" x2="89.30" y2="142.70" stroke="#555" stroke-width="0.9" />
<line x1="86.30" y1="133.96" x2="89.30" y2="133.96" stroke="#555" stroke-width="0.9" />
<line x1="87.30" y1="125.22" x2="89.30" y2="125.22" stroke="#555" stroke-width="0.9" />
<line x1="86.30" y1="116.48" x2="89.30" y2="116.48" stroke="#555" stroke-width="0.9" />
<line x1="87.30" y1="107.74" x2="89.30" y2="107.74" stroke="#555" stroke-width="0.9" />
<line x1="86.30" y1="99.00" x2="89.30" y2="99.00" stroke="#555" stroke-width="0.9" />
<line x1="87.30" y1="90.26" x2="89.30" y2="90.26" stroke="#555" stroke-width="0.9" />
<line x1="86.30" y1="81.52" x2="89.30" y2="81.52" stroke="#555" stroke-width="0.9" />
<line x1="87.30" y1="72.78" x2="89.30" y2="72.78" stroke="#555" stroke-width="0.9" />
<line x1="86.30" y1="64.04" x2="89.30" y2="64.04" stroke="#555" stroke-width="0.9" />
<line x1="87.30" y1="55.30" x2="89.30" y2="55.30" stroke="#555" stroke-width="0.9" />
<line x1="86.30" y1="46.56" x2="89.30" y2="46.56" stroke="#555" stroke-width="0.9" />
<line x1="87.30" y1="37.82" x2="89.30" y2="37.82" stroke="#555" stroke-width="0.9" />
<line x1="86.30" y1="29.08" x2="89.30" y2="29.08" stroke="#555" stroke-width="0.9" />
<line x1="87.30" y1="20.34" x2="89.30" y2="20.34" stroke="#555" stroke-width="0.9" />
<line x1="89.60" y1="186.40" x2="89.60" y2="189.70" stroke="#555" stroke-width="0.9" />
<line x1="104.80" y1="186.40" x2="104.80" y2="188.30" stroke="#555" stroke-width="0.9" />
<line x1="120.00" y1="186.40" x2="120.00" y2="189.70" stroke="#555" stroke-width="0.9" />
<line x1="135.20" y1="186.40" x2="135.20" y2="188.30" stroke="#555" stroke-width="0.9" />
<line x1="150.40" y1="186.40" x2="150.40" y2="189.70" stroke="#555" stroke-width="0.9" />
<line x1="165.60" y1="186.40" x2="165.60" y2="188.30" stroke="#555" stroke-width="0.9" />
<line x1="180.80" y1="186.40" x2="180.80" y2="189.70" stroke="#555" stroke-width="0.9" />
<line x1="196.00" y1="186.40" x2="196.00" y2="188.30" stroke="#555" stroke-width="0.9" />
<line x1="211.20" y1="186.40" x2="211.20" y2="189.70" stroke="#555" stroke-width="0.9" />
<line x1="226.40" y1="186.40" x2="226.40" y2="188.30" stroke="#555" stroke-width="0.9" />
<line x1="241.60" y1="186.40" x2="241.60" y2="189.70" stroke="#555" stroke-width="0.9" />
<line x1="256.80" y1="186.40" x2="256.80" y2="188.30" stroke="#555" stroke-width="0.9" />
<line x1="272.00" y1="186.40" x2="272.00" y2="189.70" stroke="#555" stroke-width="0.9" />
<line x1="287.20" y1="186.40" x2="287.20" y2="188.30" stroke="#555" stroke-width="0.9" />
<line x1="302.40" y1="186.40" x2="302.40" y2="189.70" stroke="#555" stroke-width="0.9" />
<line x1="317.60" y1="186.40" x2="317.60" y2="188.30" stroke="#555" stroke-width="0.9" />
<line x1="323.60" y1="23.00" x2="328.00" y2="23.00" stroke="#5050a0" stroke-width="0.9" />
<line x1="323.60" y1="36.20" x2="326.00" y2="36.20" stroke="#5050a0" stroke-width="0.9" />
<line x1="323.60" y1="49.40" x2="328.00" y2="49.40" stroke="#5050a0" stroke-width="0.9" />
<line x1="323.60" y1="62.60" x2="326.00" y2="62.60" stroke="#5050a0" stroke-width="0.9" />
<line x1="323.60" y1="75.80" x2="328.00" y2="75.80" stroke="#5050a0" stroke-width="0.9" />
<line x1="323.60" y1="89.00" x2="326.00" y2="89.00" stroke="#5050a0" stroke-width="0.9" />
<line x1="323.60" y1="102.20" x2="328.00" y2="102.20" stroke="#5050a0" stroke-width="0.9" />
<line x1="323.60" y1="115.40" x2="326.00" y2="115.40" stroke="#5050a0" stroke-width="0.9" />
<line x1="323.60" y1="128.60" x2="328.00" y2="128.60" stroke="#5050a0" stroke-width="0.9" />
<line x1="323.60" y1="141.80" x2="326.00" y2="141.80" stroke="#5050a0" stroke-width="0.9" />
<line x1="323.60" y1="155.00" x2="328.00" y2="155.00" stroke="#5050a0" stroke-width="0.9" />
<line x1="323.60" y1="168.20" x2="326.00" y2="168.20" stroke="#5050a0" stroke-width="0.9" />
<line x1="323.60" y1="181.40" x2="328.00" y2="181.40" stroke="#5050a0" stroke-width="0.9" />
<text x="89.60" y="201.20" font-size="10.50" fill="#222" text-anchor="middle" font-weight="normal" font-style="normal" >1.6</text>
<text x="120.00" y="201.20" font-size="10.50" fill="#222" text-anchor="middle" font-weight="normal" font-style="normal" >1.7</text>
<text x="150.40" y="201.20" font-size="10.50" fill="#222" text-anchor="middle" font-weight="normal" font-style="normal" >1.8</text>
<text x="180.80" y="201.20" font-size="10.50" fill="#222" text-anchor="middle" font-weight="normal" font-style="normal" >1.9</text>
<text x="211.20" y="201.20" font-size="10.50" fill="#222" text-anchor="middle" font-weight="normal" font-style="normal" >2.0</text>
<text x="241.60" y="201.20" font-size="10.50" fill="#222" text-anchor="middle" font-weight="normal" font-style="normal" >2.1</text>
<text x="272.00" y="201.20" font-size="10.50" fill="#222" text-anchor="middle" font-weight="normal" font-style="normal" >2.2</text>
<text x="302.40" y="201.20" font-size="10.50" fill="#222" text-anchor="middle" font-weight="normal" font-style="normal" >2.3</text>
<text x="175.60" y="220.50" font-size="11.80" fill="#222" text-anchor="start" font-weight="normal" font-style="normal" textLength="61.88" lengthAdjust="spacingAndGlyphs" >Energy (eV)</text>
<text x="75.40" y="152.00" font-size="12.00" fill="#222" text-anchor="start" font-weight="normal" font-style="normal" textLength="91.17" lengthAdjust="spacingAndGlyphs" transform="rotate(-90 75.40 152.00)" >PL Intensity (a.u.)</text>
<text x="340.70" y="143.10" font-size="12.00" fill="#1a1a8c" text-anchor="start" font-weight="normal" font-style="normal" textLength="96.82" lengthAdjust="spacingAndGlyphs" transform="rotate(-90 340.70 143.10)" >PLE Intensity (a.u.)</text>
<text x="120.80" y="33.50" font-size="12.00" fill="#222" text-anchor="start" font-weight="normal" font-style="normal" textLength="74.56" lengthAdjust="spacingAndGlyphs" >PLE Detection</text>
<line x1="117.80" y1="15.30" x2="117.80" y2="43.00" stroke="#000" stroke-width="1.4" />
<polygon points="115.1,40.9 120.5,40.9 117.8,50.6" fill="#000"/>
<polyline points="89.6,107.7 90.7,106.2 92.2,104.4 93.7,104.7 94.9,101.1 96.2,87.6 97.3,94.9 98.8,89.4 100.2,94.2 101.3,88 102.9,85 104.2,83.2 105.6,79.9 106.8,74.1 107.9,77 109.4,73 110.8,71.2 112.1,69.7 113.4,65.7 114.8,64.6 116.1,67.5 117.8,62 119.2,67.5 120.3,59.9 121.8,60.6 123.2,59.9 124.7,59.1 126.1,62 127.6,61 129.1,61 130.7,63.1 132.1,69.1 133.6,63.5 135.3,57.7 136.7,65 138.2,61.3 139.7,60.5 141.1,60.6 142.9,61.7 144.3,67.2 145.9,63.9 147.3,69.3 149.2,71.5 151,72.6 152.4,71.5 153.9,71.2 155.4,77.7 157.2,70.3 159,75.2 160.6,70.3 161.8,82.7 163.8,85.8 165.6,86.9 167.4,88.7 168.9,89.8 170.3,93.4 172.1,92.3 174,96 175.8,98.9 177.6,100.4 179.3,109.9 180.9,113.4 182.7,118.5 184.7,114.9 186.6,118 188.2,117 190,126 191.9,131.6 193.7,134.2 195.9,138.2 197.6,141.1 199.5,144 201.2,143.3 203.2,145.1 205,146.2 207.2,149.5 208.7,148.5 210.1,148.8 211.6,150.6 213.8,151.7 216,152.8 217.8,153.9 219.6,151 221.1,148.1 222.5,149.2 223.5,157.4 225.1,158.9 226.1,161.5 227.6,165.5 229.7,167.6 231.7,168.6 233.2,169.1 234.8,167.1 236.3,162.5 237.8,164 239.4,167.6 240.9,172.7 242.4,175.3 244,176.8 246,178.3 248.1,180.9 250.6,181.4 252.6,181.6 254.7,181.9 256.8,182.1 258.8,182.4 260.8,182.6 262.9,182.9 265,183.4 267,183.9 269,181.9 271,182.4 273.1,182.9 275.1,183.1 277.2,183.4 279.2,184 281.3,184.5 283.3,184.5 285.4,184.5 287.1,184.5 288.9,184.5" fill="none" stroke="#666" stroke-width="0.5"/>
<g fill="#111">
<circle cx="89.6" cy="107.7" r="1.2"/>
<circle cx="90.7" cy="106.2" r="1.2"/>
<circle cx="92.2" cy="104.4" r="1.2"/>
<circle cx="93.7" cy="104.7" r="1.2"/>
<circle cx="94.9" cy="101.1" r="1.2"/>
<circle cx="96.2" cy="87.6" r="1.2"/>
<circle cx="97.3" cy="94.9" r="1.2"/>
<circle cx="98.8" cy="89.4" r="1.2"/>
<circle cx="100.2" cy="94.2" r="1.2"/>
<circle cx="101.3" cy="88" r="1.2"/>
<circle cx="102.9" cy="85" r="1.2"/>
<circle cx="104.2" cy="83.2" r="1.2"/>
<circle cx="105.6" cy="79.9" r="1.2"/>
<circle cx="106.8" cy="74.1" r="1.2"/>
<circle cx="107.9" cy="77" r="1.2"/>
<circle cx="109.4" cy="73" r="1.2"/>
<circle cx="110.8" cy="71.2" r="1.2"/>
<circle cx="112.1" cy="69.7" r="1.2"/>
<circle cx="113.4" cy="65.7" r="1.2"/>
<circle cx="114.8" cy="64.6" r="1.2"/>
<circle cx="116.1" cy="67.5" r="1.2"/>
<circle cx="117.8" cy="62" r="1.2"/>
<circle cx="119.2" cy="67.5" r="1.2"/>
<circle cx="120.3" cy="59.9" r="1.2"/>
<circle cx="121.8" cy="60.6" r="1.2"/>
<circle cx="123.2" cy="59.9" r="1.2"/>
<circle cx="124.7" cy="59.1" r="1.2"/>
<circle cx="126.1" cy="62" r="1.2"/>
<circle cx="127.6" cy="61" r="1.2"/>
<circle cx="129.1" cy="61" r="1.2"/>
<circle cx="130.7" cy="63.1" r="1.2"/>
<circle cx="132.1" cy="69.1" r="1.2"/>
<circle cx="133.6" cy="63.5" r="1.2"/>
<circle cx="135.3" cy="57.7" r="1.2"/>
<circle cx="136.7" cy="65" r="1.2"/>
<circle cx="138.2" cy="61.3" r="1.2"/>
<circle cx="139.7" cy="60.5" r="1.2"/>
<circle cx="141.1" cy="60.6" r="1.2"/>
<circle cx="142.9" cy="61.7" r="1.2"/>
<circle cx="144.3" cy="67.2" r="1.2"/>
<circle cx="145.9" cy="63.9" r="1.2"/>
<circle cx="147.3" cy="69.3" r="1.2"/>
<circle cx="149.2" cy="71.5" r="1.2"/>
<circle cx="151" cy="72.6" r="1.2"/>
<circle cx="152.4" cy="71.5" r="1.2"/>
<circle cx="153.9" cy="71.2" r="1.2"/>
<circle cx="155.4" cy="77.7" r="1.2"/>
<circle cx="157.2" cy="70.3" r="1.2"/>
<circle cx="159" cy="75.2" r="1.2"/>
<circle cx="160.6" cy="70.3" r="1.2"/>
<circle cx="161.8" cy="82.7" r="1.2"/>
<circle cx="163.8" cy="85.8" r="1.2"/>
<circle cx="165.6" cy="86.9" r="1.2"/>
<circle cx="167.4" cy="88.7" r="1.2"/>
<circle cx="168.9" cy="89.8" r="1.2"/>
<circle cx="170.3" cy="93.4" r="1.2"/>
<circle cx="172.1" cy="92.3" r="1.2"/>
<circle cx="174" cy="96" r="1.2"/>
<circle cx="175.8" cy="98.9" r="1.2"/>
<circle cx="177.6" cy="100.4" r="1.2"/>
<circle cx="179.3" cy="109.9" r="1.2"/>
<circle cx="180.9" cy="113.4" r="1.2"/>
<circle cx="182.7" cy="118.5" r="1.2"/>
<circle cx="184.7" cy="114.9" r="1.2"/>
<circle cx="186.6" cy="118" r="1.2"/>
<circle cx="188.2" cy="117" r="1.2"/>
<circle cx="190" cy="126" r="1.2"/>
<circle cx="191.9" cy="131.6" r="1.2"/>
<circle cx="193.7" cy="134.2" r="1.2"/>
<circle cx="195.9" cy="138.2" r="1.2"/>
<circle cx="197.6" cy="141.1" r="1.2"/>
<circle cx="199.5" cy="144" r="1.2"/>
<circle cx="201.2" cy="143.3" r="1.2"/>
<circle cx="203.2" cy="145.1" r="1.2"/>
<circle cx="205" cy="146.2" r="1.2"/>
<circle cx="207.2" cy="149.5" r="1.2"/>
<circle cx="208.7" cy="148.5" r="1.2"/>
<circle cx="210.1" cy="148.8" r="1.2"/>
<circle cx="211.6" cy="150.6" r="1.2"/>
<circle cx="213.8" cy="151.7" r="1.2"/>
<circle cx="216" cy="152.8" r="1.2"/>
<circle cx="217.8" cy="153.9" r="1.2"/>
<circle cx="219.6" cy="151" r="1.2"/>
<circle cx="221.1" cy="148.1" r="1.2"/>
<circle cx="222.5" cy="149.2" r="1.2"/>
<circle cx="223.5" cy="157.4" r="1.2"/>
<circle cx="225.1" cy="158.9" r="1.2"/>
<circle cx="226.1" cy="161.5" r="1.2"/>
<circle cx="227.6" cy="165.5" r="1.2"/>
<circle cx="229.7" cy="167.6" r="1.2"/>
<circle cx="231.7" cy="168.6" r="1.2"/>
<circle cx="233.2" cy="169.1" r="1.2"/>
<circle cx="234.8" cy="167.1" r="1.2"/>
<circle cx="236.3" cy="162.5" r="1.2"/>
<circle cx="237.8" cy="164" r="1.2"/>
<circle cx="239.4" cy="167.6" r="1.2"/>
<circle cx="240.9" cy="172.7" r="1.2"/>
<circle cx="242.4" cy="175.3" r="1.2"/>
<circle cx="244" cy="176.8" r="1.2"/>
<circle cx="246" cy="178.3" r="1.2"/>
<circle cx="248.1" cy="180.9" r="1.2"/>
<circle cx="250.6" cy="181.4" r="1.2"/>
<circle cx="252.6" cy="181.6" r="1.2"/>
<circle cx="254.7" cy="181.9" r="1.2"/>
<circle cx="256.8" cy="182.1" r="1.2"/>
<circle cx="258.8" cy="182.4" r="1.2"/>
<circle cx="260.8" cy="182.6" r="1.2"/>
<circle cx="262.9" cy="182.9" r="1.2"/>
<circle cx="265" cy="183.4" r="1.2"/>
<circle cx="267" cy="183.9" r="1.2"/>
<circle cx="269" cy="181.9" r="1.2"/>
<circle cx="271" cy="182.4" r="1.2"/>
<circle cx="273.1" cy="182.9" r="1.2"/>
<circle cx="275.1" cy="183.1" r="1.2"/>
<circle cx="277.2" cy="183.4" r="1.2"/>
<circle cx="279.2" cy="184" r="1.2"/>
<circle cx="281.3" cy="184.5" r="1.2"/>
<circle cx="283.3" cy="184.5" r="1.2"/>
<circle cx="285.4" cy="184.5" r="1.2"/>
<circle cx="287.1" cy="184.5" r="1.2"/>
<circle cx="288.9" cy="184.5" r="1.2"/>
</g>
<g fill="#2424c8">
<circle cx="210.50" cy="180.1" r="0.85"/>
<circle cx="210.83" cy="181.6" r="0.85"/>
<circle cx="211.16" cy="184.5" r="0.85"/>
<circle cx="211.49" cy="184.2" r="0.85"/>
<circle cx="211.82" cy="184.9" r="0.85"/>
<circle cx="212.15" cy="182.1" r="0.85"/>
<circle cx="212.48" cy="184.7" r="0.85"/>
<circle cx="212.81" cy="183.2" r="0.85"/>
<circle cx="213.14" cy="183.4" r="0.85"/>
<circle cx="213.47" cy="182.8" r="0.85"/>
<circle cx="213.80" cy="181.5" r="0.85"/>
<circle cx="214.13" cy="181.7" r="0.85"/>
<circle cx="214.46" cy="183.3" r="0.85"/>
<circle cx="214.79" cy="181.5" r="0.85"/>
<circle cx="215.12" cy="181.8" r="0.85"/>
<circle cx="215.45" cy="181.7" r="0.85"/>
<circle cx="215.78" cy="182.0" r="0.85"/>
<circle cx="216.11" cy="183.0" r="0.85"/>
<circle cx="216.44" cy="180.3" r="0.85"/>
<circle cx="216.77" cy="181.6" r="0.85"/>
<circle cx="217.10" cy="180.4" r="0.85"/>
<circle cx="217.43" cy="180.9" r="0.85"/>
<circle cx="217.76" cy="180.0" r="0.85"/>
<circle cx="218.09" cy="178.7" r="0.85"/>
<circle cx="218.42" cy="180.1" r="0.85"/>
<circle cx="218.75" cy="178.7" r="0.85"/>
<circle cx="219.08" cy="182.3" r="0.85"/>
<circle cx="219.41" cy="178.5" r="0.85"/>
<circle cx="219.74" cy="179.4" r="0.85"/>
<circle cx="220.07" cy="180.4" r="0.85"/>
<circle cx="220.40" cy="179.4" r="0.85"/>
<circle cx="220.73" cy="181.5" r="0.85"/>
<circle cx="221.06" cy="179.5" r="0.85"/>
<circle cx="221.39" cy="177.7" r="0.85"/>
<circle cx="221.72" cy="180.8" r="0.85"/>
<circle cx="222.05" cy="178.9" r="0.85"/>
<circle cx="222.38" cy="183.1" r="0.85"/>
<circle cx="222.71" cy="177.9" r="0.85"/>
<circle cx="223.04" cy="178.2" r="0.85"/>
<circle cx="223.37" cy="178.8" r="0.85"/>
<circle cx="223.70" cy="177.1" r="0.85"/>
<circle cx="224.03" cy="179.3" r="0.85"/>
<circle cx="224.36" cy="180.1" r="0.85"/>
<circle cx="224.69" cy="180.3" r="0.85"/>
<circle cx="225.02" cy="178.6" r="0.85"/>
<circle cx="225.35" cy="177.7" r="0.85"/>
<circle cx="225.68" cy="179.4" r="0.85"/>
<circle cx="226.01" cy="179.1" r="0.85"/>
<circle cx="226.34" cy="177.1" r="0.85"/>
<circle cx="226.67" cy="176.5" r="0.85"/>
<circle cx="227.00" cy="175.9" r="0.85"/>
<circle cx="227.33" cy="177.1" r="0.85"/>
<circle cx="227.66" cy="176.6" r="0.85"/>
<circle cx="227.99" cy="177.5" r="0.85"/>
<circle cx="228.32" cy="177.7" r="0.85"/>
<circle cx="228.65" cy="174.7" r="0.85"/>
<circle cx="228.98" cy="176.6" r="0.85"/>
<circle cx="229.31" cy="176.4" r="0.85"/>
<circle cx="229.64" cy="175.2" r="0.85"/>
<circle cx="229.97" cy="175.8" r="0.85"/>
<circle cx="230.30" cy="177.2" r="0.85"/>
<circle cx="230.63" cy="175.3" r="0.85"/>
<circle cx="230.96" cy="175.0" r="0.85"/>
<circle cx="231.29" cy="174.5" r="0.85"/>
<circle cx="231.62" cy="175.3" r="0.85"/>
<circle cx="231.95" cy="174.1" r="0.85"/>
<circle cx="232.28" cy="175.3" r="0.85"/>
<circle cx="232.61" cy="173.0" r="0.85"/>
<circle cx="232.94" cy="173.6" r="0.85"/>
<circle cx="233.27" cy="174.8" r="0.85"/>
<circle cx="233.60" cy="176.0" r="0.85"/>
<circle cx="233.93" cy="173.4" r="0.85"/>
<circle cx="234.26" cy="174.2" r="0.85"/>
<circle cx="234.59" cy="174.8" r="0.85"/>
<circle cx="234.92" cy="173.5" r="0.85"/>
<circle cx="235.25" cy="174.1" r="0.85"/>
<circle cx="235.58" cy="174.1" r="0.85"/>
<circle cx="235.91" cy="171.9" r="0.85"/>
<circle cx="236.24" cy="171.4" r="0.85"/>
<circle cx="236.57" cy="173.6" r="0.85"/>
<circle cx="236.90" cy="172.0" r="0.85"/>
<circle cx="237.23" cy="173.1" r="0.85"/>
<circle cx="237.56" cy="173.3" r="0.85"/>
<circle cx="237.89" cy="171.9" r="0.85"/>
<circle cx="238.22" cy="171.6" r="0.85"/>
<circle cx="238.55" cy="171.7" r="0.85"/>
<circle cx="238.88" cy="174.2" r="0.85"/>
<circle cx="239.21" cy="169.7" r="0.85"/>
<circle cx="239.54" cy="173.5" r="0.85"/>
<circle cx="239.87" cy="172.3" r="0.85"/>
<circle cx="240.20" cy="171.3" r="0.85"/>
<circle cx="240.53" cy="172.5" r="0.85"/>
<circle cx="240.86" cy="171.9" r="0.85"/>
<circle cx="241.19" cy="170.7" r="0.85"/>
<circle cx="241.52" cy="171.6" r="0.85"/>
<circle cx="241.85" cy="171.8" r="0.85"/>
<circle cx="242.18" cy="172.2" r="0.85"/>
<circle cx="242.51" cy="171.6" r="0.85"/>
<circle cx="242.84" cy="171.3" r="0.85"/>
<circle cx="243.17" cy="168.5" r="0.85"/>
<circle cx="243.50" cy="170.3" r="0.85"/>
<circle cx="243.83" cy="171.7" r="0.85"/>
<circle cx="244.16" cy="171.8" r="0.85"/>
<circle cx="244.49" cy="169.8" r="0.85"/>
<circle cx="244.82" cy="169.9" r="0.85"/>
<circle cx="245.15" cy="169.3" r="0.85"/>
<circle cx="245.48" cy="168.9" r="0.85"/>
<circle cx="245.81" cy="171.2" r="0.85"/>
<circle cx="246.14" cy="171.6" r="0.85"/>
<circle cx="246.47" cy="170.5" r="0.85"/>
<circle cx="246.80" cy="170.9" r="0.85"/>
<circle cx="247.13" cy="172.3" r="0.85"/>
<circle cx="247.46" cy="169.0" r="0.85"/>
<circle cx="247.79" cy="170.4" r="0.85"/>
<circle cx="248.12" cy="170.3" r="0.85"/>
<circle cx="248.45" cy="171.6" r="0.85"/>
<circle cx="248.78" cy="168.6" r="0.85"/>
<circle cx="249.11" cy="168.2" r="0.85"/>
<circle cx="249.44" cy="170.7" r="0.85"/>
<circle cx="249.77" cy="169.4" r="0.85"/>
<circle cx="250.10" cy="170.5" r="0.85"/>
<circle cx="250.43" cy="170.9" r="0.85"/>
<circle cx="250.76" cy="170.7" r="0.85"/>
<circle cx="251.09" cy="171.2" r="0.85"/>
<circle cx="251.42" cy="170.3" r="0.85"/>
<circle cx="251.75" cy="170.0" r="0.85"/>
<circle cx="252.08" cy="168.0" r="0.85"/>
<circle cx="252.41" cy="171.1" r="0.85"/>
<circle cx="252.74" cy="168.2" r="0.85"/>
<circle cx="253.07" cy="169.7" r="0.85"/>
<circle cx="253.40" cy="171.5" r="0.85"/>
<circle cx="253.73" cy="167.7" r="0.85"/>
<circle cx="254.06" cy="170.7" r="0.85"/>
<circle cx="254.39" cy="168.7" r="0.85"/>
<circle cx="254.72" cy="169.6" r="0.85"/>
<circle cx="255.05" cy="167.6" r="0.85"/>
<circle cx="255.38" cy="167.0" r="0.85"/>
<circle cx="255.71" cy="170.2" r="0.85"/>
<circle cx="256.04" cy="172.2" r="0.85"/>
<circle cx="256.37" cy="170.7" r="0.85"/>
<circle cx="256.70" cy="169.8" r="0.85"/>
<circle cx="257.03" cy="169.9" r="0.85"/>
<circle cx="257.36" cy="171.9" r="0.85"/>
<circle cx="257.69" cy="171.8" r="0.85"/>
<circle cx="258.02" cy="169.0" r="0.85"/>
<circle cx="258.35" cy="168.6" r="0.85"/>
<circle cx="258.68" cy="172.2" r="0.85"/>
<circle cx="259.01" cy="169.4" r="0.85"/>
<circle cx="259.34" cy="170.7" r="0.85"/>
<circle cx="259.67" cy="171.4" r="0.85"/>
<circle cx="260.00" cy="168.9" r="0.85"/>
<circle cx="260.33" cy="169.3" r="0.85"/>
<circle cx="260.66" cy="168.2" r="0.85"/>
<circle cx="260.99" cy="171.5" r="0.85"/>
<circle cx="261.32" cy="169.8" r="0.85"/>
<circle cx="261.65" cy="171.1" r="0.85"/>
<circle cx="261.98" cy="168.4" r="0.85"/>
<circle cx="262.31" cy="171.0" r="0.85"/>
<circle cx="262.64" cy="169.1" r="0.85"/>
<circle cx="262.97" cy="169.9" r="0.85"/>
<circle cx="263.30" cy="168.5" r="0.85"/>
<circle cx="263.63" cy="169.9" r="0.85"/>
<circle cx="263.96" cy="171.1" r="0.85"/>
<circle cx="264.29" cy="169.9" r="0.85"/>
<circle cx="264.62" cy="169.9" r="0.85"/>
<circle cx="264.95" cy="170.9" r="0.85"/>
<circle cx="265.28" cy="170.0" r="0.85"/>
<circle cx="265.61" cy="171.0" r="0.85"/>
<circle cx="265.94" cy="170.5" r="0.85"/>
<circle cx="266.27" cy="171.5" r="0.85"/>
<circle cx="266.60" cy="169.9" r="0.85"/>
<circle cx="266.93" cy="170.6" r="0.85"/>
<circle cx="267.26" cy="170.7" r="0.85"/>
<circle cx="267.59" cy="172.4" r="0.85"/>
<circle cx="267.92" cy="171.0" r="0.85"/>
<circle cx="268.25" cy="169.2" r="0.85"/>
<circle cx="268.58" cy="169.0" r="0.85"/>
<circle cx="268.91" cy="170.5" r="0.85"/>
<circle cx="269.24" cy="170.1" r="0.85"/>
<circle cx="269.57" cy="169.5" r="0.85"/>
<circle cx="269.90" cy="169.9" r="0.85"/>
<circle cx="270.23" cy="171.6" r="0.85"/>
<circle cx="270.56" cy="168.4" r="0.85"/>
<circle cx="270.89" cy="171.0" r="0.85"/>
<circle cx="271.22" cy="170.2" r="0.85"/>
<circle cx="271.55" cy="172.3" r="0.85"/>
<circle cx="271.88" cy="168.1" r="0.85"/>
<circle cx="272.21" cy="170.7" r="0.85"/>
<circle cx="272.54" cy="169.7" r="0.85"/>
<circle cx="272.87" cy="170.0" r="0.85"/>
<circle cx="273.20" cy="170.3" r="0.85"/>
<circle cx="273.53" cy="172.0" r="0.85"/>
<circle cx="273.86" cy="169.9" r="0.85"/>
<circle cx="274.19" cy="170.0" r="0.85"/>
<circle cx="274.52" cy="167.4" r="0.85"/>
<circle cx="274.85" cy="169.8" r="0.85"/>
<circle cx="275.18" cy="167.2" r="0.85"/>
<circle cx="275.51" cy="168.6" r="0.85"/>
<circle cx="275.84" cy="169.2" r="0.85"/>
<circle cx="276.17" cy="170.2" r="0.85"/>
<circle cx="276.50" cy="169.6" r="0.85"/>
<circle cx="276.83" cy="168.5" r="0.85"/>
<circle cx="277.16" cy="169.1" r="0.85"/>
<circle cx="277.49" cy="167.7" r="0.85"/>
<circle cx="277.82" cy="167.9" r="0.85"/>
<circle cx="278.15" cy="167.6" r="0.85"/>
<circle cx="278.48" cy="168.5" r="0.85"/>
<circle cx="278.81" cy="167.0" r="0.85"/>
<circle cx="279.14" cy="165.8" r="0.85"/>
<circle cx="279.47" cy="165.4" r="0.85"/>
<circle cx="279.80" cy="169.7" r="0.85"/>
<circle cx="280.13" cy="164.0" r="0.85"/>
<circle cx="280.46" cy="166.3" r="0.85"/>
<circle cx="280.79" cy="165.9" r="0.85"/>
<circle cx="281.12" cy="165.7" r="0.85"/>
<circle cx="281.45" cy="164.6" r="0.85"/>
<circle cx="281.78" cy="166.3" r="0.85"/>
<circle cx="282.11" cy="165.5" r="0.85"/>
<circle cx="282.44" cy="164.0" r="0.85"/>
<circle cx="282.77" cy="164.5" r="0.85"/>
<circle cx="283.10" cy="163.3" r="0.85"/>
<circle cx="283.43" cy="165.2" r="0.85"/>
<circle cx="283.76" cy="167.0" r="0.85"/>
<circle cx="284.09" cy="166.3" r="0.85"/>
<circle cx="284.42" cy="165.4" r="0.85"/>
<circle cx="284.75" cy="163.9" r="0.85"/>
<circle cx="285.08" cy="163.7" r="0.85"/>
<circle cx="285.41" cy="164.1" r="0.85"/>
<circle cx="285.74" cy="165.4" r="0.85"/>
<circle cx="286.07" cy="163.3" r="0.85"/>
<circle cx="286.40" cy="163.0" r="0.85"/>
<circle cx="286.73" cy="161.3" r="0.85"/>
<circle cx="287.06" cy="162.7" r="0.85"/>
<circle cx="287.39" cy="162.7" r="0.85"/>
<circle cx="287.72" cy="161.5" r="0.85"/>
<circle cx="288.05" cy="160.9" r="0.85"/>
<circle cx="288.38" cy="162.0" r="0.85"/>
<circle cx="288.71" cy="162.2" r="0.85"/>
<circle cx="289.04" cy="160.7" r="0.85"/>
<circle cx="289.37" cy="162.4" r="0.85"/>
<circle cx="289.70" cy="160.9" r="0.85"/>
<circle cx="290.03" cy="161.5" r="0.85"/>
<circle cx="290.36" cy="162.8" r="0.85"/>
<circle cx="290.69" cy="160.1" r="0.85"/>
<circle cx="291.02" cy="160.5" r="0.85"/>
<circle cx="291.35" cy="160.0" r="0.85"/>
<circle cx="291.68" cy="159.8" r="0.85"/>
<circle cx="292.01" cy="160.5" r="0.85"/>
<circle cx="292.34" cy="157.8" r="0.85"/>
<circle cx="292.67" cy="160.0" r="0.85"/>
<circle cx="293.00" cy="157.6" r="0.85"/>
<circle cx="293.33" cy="158.4" r="0.85"/>
<circle cx="293.66" cy="160.0" r="0.85"/>
<circle cx="293.99" cy="156.6" r="0.85"/>
<circle cx="294.32" cy="160.2" r="0.85"/>
<circle cx="294.65" cy="160.7" r="0.85"/>
<circle cx="294.98" cy="159.5" r="0.85"/>
<circle cx="295.31" cy="158.8" r="0.85"/>
<circle cx="295.64" cy="157.8" r="0.85"/>
<circle cx="295.97" cy="157.3" r="0.85"/>
<circle cx="296.30" cy="160.1" r="0.85"/>
<circle cx="296.63" cy="155.8" r="0.85"/>
<circle cx="296.96" cy="156.9" r="0.85"/>
<circle cx="297.29" cy="157.4" r="0.85"/>
<circle cx="297.62" cy="155.8" r="0.85"/>
<circle cx="297.95" cy="154.7" r="0.85"/>
<circle cx="298.28" cy="156.4" r="0.85"/>
<circle cx="298.61" cy="155.9" r="0.85"/>
<circle cx="298.94" cy="153.5" r="0.85"/>
<circle cx="299.27" cy="154.7" r="0.85"/>
<circle cx="299.60" cy="154.3" r="0.85"/>
<circle cx="299.93" cy="154.7" r="0.85"/>
<circle cx="300.26" cy="154.7" r="0.85"/>
<circle cx="300.59" cy="154.0" r="0.85"/>
<circle cx="300.92" cy="152.7" r="0.85"/>
<circle cx="301.25" cy="152.3" r="0.85"/>
<circle cx="301.58" cy="151.4" r="0.85"/>
<circle cx="301.91" cy="150.3" r="0.85"/>
<circle cx="302.24" cy="150.2" r="0.85"/>
<circle cx="302.57" cy="149.1" r="0.85"/>
<circle cx="302.90" cy="148.5" r="0.85"/>
<circle cx="303.23" cy="147.2" r="0.85"/>
<circle cx="303.56" cy="147.2" r="0.85"/>
<circle cx="303.89" cy="146.3" r="0.85"/>
<circle cx="304.22" cy="145.7" r="0.85"/>
<circle cx="304.55" cy="144.6" r="0.85"/>
<circle cx="304.88" cy="144.5" r="0.85"/>
<circle cx="305.21" cy="143.4" r="0.85"/>
<circle cx="305.54" cy="142.1" r="0.85"/>
<circle cx="305.87" cy="141.4" r="0.85"/>
<circle cx="306.20" cy="140.5" r="0.85"/>
<circle cx="306.53" cy="139.1" r="0.85"/>
<circle cx="306.86" cy="138.6" r="0.85"/>
<circle cx="307.19" cy="137.5" r="0.85"/>
<circle cx="307.52" cy="136.6" r="0.85"/>
<circle cx="307.85" cy="135.7" r="0.85"/>
<circle cx="308.18" cy="135.1" r="0.85"/>
<circle cx="308.51" cy="133.4" r="0.85"/>
<circle cx="308.84" cy="132.2" r="0.85"/>
<circle cx="309.17" cy="131.5" r="0.85"/>
<circle cx="309.50" cy="130.4" r="0.85"/>
<circle cx="309.83" cy="128.8" r="0.85"/>
<circle cx="310.16" cy="129.0" r="0.85"/>
<circle cx="310.49" cy="127.1" r="0.85"/>
<circle cx="310.82" cy="124.7" r="0.85"/>
<circle cx="311.15" cy="123.2" r="0.85"/>
<circle cx="311.48" cy="121.7" r="0.85"/>
<circle cx="311.81" cy="119.8" r="0.85"/>
<circle cx="312.14" cy="118.0" r="0.85"/>
<circle cx="312.47" cy="116.4" r="0.85"/>
<circle cx="312.80" cy="114.8" r="0.85"/>
<circle cx="313.13" cy="113.0" r="0.85"/>
<circle cx="313.46" cy="111.0" r="0.85"/>
<circle cx="313.79" cy="109.3" r="0.85"/>
<circle cx="314.12" cy="106.9" r="0.85"/>
<circle cx="314.45" cy="104.7" r="0.85"/>
<circle cx="314.78" cy="102.8" r="0.85"/>
<circle cx="315.11" cy="100.4" r="0.85"/>
<circle cx="315.44" cy="98.3" r="0.85"/>
<circle cx="315.77" cy="95.8" r="0.85"/>
<circle cx="316.10" cy="93.5" r="0.85"/>
<circle cx="316.43" cy="91.4" r="0.85"/>
<circle cx="316.76" cy="88.2" r="0.85"/>
<circle cx="317.09" cy="84.6" r="0.85"/>
<circle cx="317.42" cy="81.2" r="0.85"/>
<circle cx="317.75" cy="77.1" r="0.85"/>
<circle cx="318.08" cy="72.9" r="0.85"/>
<circle cx="318.41" cy="69.4" r="0.85"/>
<circle cx="318.74" cy="65.9" r="0.85"/>
<circle cx="319.07" cy="61.7" r="0.85"/>
<circle cx="319.40" cy="56.6" r="0.85"/>
<circle cx="319.73" cy="52.5" r="0.85"/>
<circle cx="320.06" cy="47.9" r="0.85"/>
<circle cx="320.39" cy="44.6" r="0.85"/>
<circle cx="320.72" cy="41.4" r="0.85"/>
<circle cx="321.05" cy="38.4" r="0.85"/>
<circle cx="321.38" cy="35.7" r="0.85"/>
<circle cx="216" cy="174.5" r="0.85"/>
<circle cx="222" cy="175" r="0.85"/>
<circle cx="228" cy="170" r="0.85"/>
<circle cx="238" cy="167.5" r="0.85"/>
<circle cx="246" cy="165.5" r="0.85"/>
<circle cx="258" cy="167" r="0.85"/>
<circle cx="264" cy="166.5" r="0.85"/>
<circle cx="266" cy="165.5" r="0.85"/>
<circle cx="272" cy="168" r="0.85"/>
<circle cx="280" cy="163" r="0.85"/>
<circle cx="287" cy="157.5" r="0.85"/>
<circle cx="293" cy="155.5" r="0.85"/>
<circle cx="295" cy="158" r="0.85"/>
<circle cx="213" cy="179" r="0.85"/>
<circle cx="250" cy="174" r="0.85"/>
</g>
<line x1="41.70" y1="555.80" x2="422.90" y2="555.80" stroke="#000" stroke-width="1.4" />
<line x1="41.70" y1="555.80" x2="41.70" y2="839.40" stroke="#000" stroke-width="1.4" />
<line x1="41.70" y1="839.40" x2="422.90" y2="839.40" stroke="#000" stroke-width="1.4" />
<line x1="422.90" y1="555.80" x2="422.90" y2="839.40" stroke="#000" stroke-width="1.4" />
<line x1="62.20" y1="839.40" x2="62.20" y2="845.20" stroke="#000" stroke-width="1.3" />
<line x1="62.20" y1="555.80" x2="62.20" y2="561.10" stroke="#000" stroke-width="1.3" />
<line x1="88.05" y1="839.40" x2="88.05" y2="842.90" stroke="#000" stroke-width="1.3" />
<line x1="88.05" y1="555.80" x2="88.05" y2="558.40" stroke="#000" stroke-width="1.3" />
<line x1="113.90" y1="839.40" x2="113.90" y2="845.20" stroke="#000" stroke-width="1.3" />
<line x1="113.90" y1="555.80" x2="113.90" y2="561.10" stroke="#000" stroke-width="1.3" />
<line x1="139.75" y1="839.40" x2="139.75" y2="842.90" stroke="#000" stroke-width="1.3" />
<line x1="139.75" y1="555.80" x2="139.75" y2="558.40" stroke="#000" stroke-width="1.3" />
<line x1="165.60" y1="839.40" x2="165.60" y2="845.20" stroke="#000" stroke-width="1.3" />
<line x1="165.60" y1="555.80" x2="165.60" y2="561.10" stroke="#000" stroke-width="1.3" />
<line x1="191.45" y1="839.40" x2="191.45" y2="842.90" stroke="#000" stroke-width="1.3" />
<line x1="191.45" y1="555.80" x2="191.45" y2="558.40" stroke="#000" stroke-width="1.3" />
<line x1="217.30" y1="839.40" x2="217.30" y2="845.20" stroke="#000" stroke-width="1.3" />
<line x1="217.30" y1="555.80" x2="217.30" y2="561.10" stroke="#000" stroke-width="1.3" />
<line x1="243.15" y1="839.40" x2="243.15" y2="842.90" stroke="#000" stroke-width="1.3" />
<line x1="243.15" y1="555.80" x2="243.15" y2="558.40" stroke="#000" stroke-width="1.3" />
<line x1="269.00" y1="839.40" x2="269.00" y2="845.20" stroke="#000" stroke-width="1.3" />
<line x1="269.00" y1="555.80" x2="269.00" y2="561.10" stroke="#000" stroke-width="1.3" />
<line x1="294.85" y1="839.40" x2="294.85" y2="842.90" stroke="#000" stroke-width="1.3" />
<line x1="294.85" y1="555.80" x2="294.85" y2="558.40" stroke="#000" stroke-width="1.3" />
<line x1="320.70" y1="839.40" x2="320.70" y2="845.20" stroke="#000" stroke-width="1.3" />
<line x1="320.70" y1="555.80" x2="320.70" y2="561.10" stroke="#000" stroke-width="1.3" />
<line x1="346.55" y1="839.40" x2="346.55" y2="842.90" stroke="#000" stroke-width="1.3" />
<line x1="346.55" y1="555.80" x2="346.55" y2="558.40" stroke="#000" stroke-width="1.3" />
<line x1="372.40" y1="839.40" x2="372.40" y2="845.20" stroke="#000" stroke-width="1.3" />
<line x1="372.40" y1="555.80" x2="372.40" y2="561.10" stroke="#000" stroke-width="1.3" />
<line x1="398.25" y1="839.40" x2="398.25" y2="842.90" stroke="#000" stroke-width="1.3" />
<line x1="398.25" y1="555.80" x2="398.25" y2="558.40" stroke="#000" stroke-width="1.3" />
<line x1="35.90" y1="614.30" x2="41.70" y2="614.30" stroke="#000" stroke-width="1.3" />
<line x1="38.40" y1="750.60" x2="41.70" y2="750.60" stroke="#000" stroke-width="1.2" />
<line x1="38.40" y1="716.26" x2="41.70" y2="716.26" stroke="#000" stroke-width="1.2" />
<line x1="38.40" y1="691.90" x2="41.70" y2="691.90" stroke="#000" stroke-width="1.2" />
<line x1="38.40" y1="673.00" x2="41.70" y2="673.00" stroke="#000" stroke-width="1.2" />
<line x1="38.40" y1="657.56" x2="41.70" y2="657.56" stroke="#000" stroke-width="1.2" />
<line x1="38.40" y1="644.51" x2="41.70" y2="644.51" stroke="#000" stroke-width="1.2" />
<line x1="38.40" y1="633.20" x2="41.70" y2="633.20" stroke="#000" stroke-width="1.2" />
<line x1="38.40" y1="623.22" x2="41.70" y2="623.22" stroke="#000" stroke-width="1.2" />
<line x1="35.90" y1="809.20" x2="41.70" y2="809.20" stroke="#000" stroke-width="1.3" />
<line x1="38.40" y1="828.10" x2="41.70" y2="828.10" stroke="#000" stroke-width="1.2" />
<line x1="38.40" y1="818.12" x2="41.70" y2="818.12" stroke="#000" stroke-width="1.2" />
<text x="62.20" y="863.10" font-size="18.00" fill="#000" text-anchor="middle" font-weight="normal" font-style="normal" textLength="35.00" lengthAdjust="spacingAndGlyphs" >2.25</text>
<text x="113.90" y="863.10" font-size="18.00" fill="#000" text-anchor="middle" font-weight="normal" font-style="normal" textLength="35.00" lengthAdjust="spacingAndGlyphs" >2.30</text>
<text x="165.60" y="863.10" font-size="18.00" fill="#000" text-anchor="middle" font-weight="normal" font-style="normal" textLength="35.00" lengthAdjust="spacingAndGlyphs" >2.35</text>
<text x="217.30" y="863.10" font-size="18.00" fill="#000" text-anchor="middle" font-weight="normal" font-style="normal" textLength="35.00" lengthAdjust="spacingAndGlyphs" >2.40</text>
<text x="269.00" y="863.10" font-size="18.00" fill="#000" text-anchor="middle" font-weight="normal" font-style="normal" textLength="35.00" lengthAdjust="spacingAndGlyphs" >2.45</text>
<text x="320.70" y="863.10" font-size="18.00" fill="#000" text-anchor="middle" font-weight="normal" font-style="normal" textLength="35.00" lengthAdjust="spacingAndGlyphs" >2.50</text>
<text x="372.40" y="863.10" font-size="18.00" fill="#000" text-anchor="middle" font-weight="normal" font-style="normal" textLength="35.00" lengthAdjust="spacingAndGlyphs" >2.55</text>
<text x="424.10" y="863.10" font-size="18.00" fill="#000" text-anchor="middle" font-weight="normal" font-style="normal" textLength="35.00" lengthAdjust="spacingAndGlyphs" >2.60</text>
<text x="182.40" y="893.30" font-size="19.00" fill="#000" text-anchor="start" font-weight="normal" font-style="normal" textLength="99.95" lengthAdjust="spacingAndGlyphs" >Energy (eV)</text>
<text x="21.40" y="789.10" font-size="18.60" fill="#000" text-anchor="start" font-weight="normal" font-style="normal" textLength="159.15" lengthAdjust="spacingAndGlyphs" transform="rotate(-90 21.40 789.10)" >PLE Intensity (a.u.)</text>
<text x="3.30" y="581.70" font-size="29.00" fill="#000" text-anchor="start" font-weight="normal" font-style="normal" textLength="26.85" lengthAdjust="spacingAndGlyphs" >b)</text>
<line x1="146.30" y1="553.80" x2="146.30" y2="838.40" stroke="#555" stroke-width="1.0" stroke-dasharray="1.8 2.2"/>
<line x1="356.30" y1="553.80" x2="356.30" y2="616.20" stroke="#777" stroke-width="1.0" stroke-dasharray="1.8 2.2"/>
<text x="150.90" y="600.30" font-size="21.00" fill="#000" text-anchor="start" font-weight="normal" font-style="normal" >C</text>
<text x="362.90" y="599.20" font-size="21.00" fill="#000" text-anchor="start" font-weight="normal" font-style="normal" >D</text>
<line x1="131.10" y1="725.70" x2="131.10" y2="768.00" stroke="#000" stroke-width="2.0" />
<polygon points="127.3,766.0 134.9,766.0 131.1,778.6" fill="#000"/>
<g fill="#0c0cec">
<circle cx="43.1" cy="835.7" r="1.85"/>
<circle cx="43.9" cy="834.9" r="1.85"/>
<circle cx="44.5" cy="832.0" r="1.85"/>
<circle cx="45.1" cy="831.7" r="1.85"/>
<circle cx="45.8" cy="831.0" r="1.85"/>
<circle cx="46.6" cy="830.8" r="1.85"/>
<circle cx="47.5" cy="833.7" r="1.85"/>
<circle cx="48.1" cy="835.2" r="1.85"/>
<circle cx="48.5" cy="825.3" r="1.85"/>
<circle cx="49.0" cy="832.0" r="1.85"/>
<circle cx="50.0" cy="833.6" r="1.85"/>
<circle cx="51.0" cy="834.7" r="1.85"/>
<circle cx="51.4" cy="833.4" r="1.85"/>
<circle cx="52.1" cy="832.7" r="1.85"/>
<circle cx="52.9" cy="827.4" r="1.85"/>
<circle cx="53.7" cy="830.6" r="1.85"/>
<circle cx="54.2" cy="826.0" r="1.85"/>
<circle cx="54.7" cy="834.1" r="1.85"/>
<circle cx="55.7" cy="827.8" r="1.85"/>
<circle cx="56.1" cy="833.6" r="1.85"/>
<circle cx="57.3" cy="830.5" r="1.85"/>
<circle cx="57.6" cy="831.7" r="1.85"/>
<circle cx="58.3" cy="833.6" r="1.85"/>
<circle cx="59.1" cy="831.3" r="1.85"/>
<circle cx="59.9" cy="830.0" r="1.85"/>
<circle cx="60.3" cy="832.7" r="1.85"/>
<circle cx="61.3" cy="833.7" r="1.85"/>
<circle cx="61.7" cy="829.7" r="1.85"/>
<circle cx="62.8" cy="829.3" r="1.85"/>
<circle cx="63.1" cy="831.4" r="1.85"/>
<circle cx="64.2" cy="831.5" r="1.85"/>
<circle cx="64.7" cy="826.9" r="1.85"/>
<circle cx="65.4" cy="830.8" r="1.85"/>
<circle cx="66.0" cy="835.8" r="1.85"/>
<circle cx="66.9" cy="831.3" r="1.85"/>
<circle cx="67.5" cy="825.3" r="1.85"/>
<circle cx="68.1" cy="827.9" r="1.85"/>
<circle cx="69.1" cy="828.5" r="1.85"/>
<circle cx="69.5" cy="829.9" r="1.85"/>
<circle cx="70.2" cy="827.1" r="1.85"/>
<circle cx="70.9" cy="827.1" r="1.85"/>
<circle cx="71.4" cy="829.1" r="1.85"/>
<circle cx="72.5" cy="828.0" r="1.85"/>
<circle cx="73.0" cy="830.0" r="1.85"/>
<circle cx="73.8" cy="825.0" r="1.85"/>
<circle cx="74.6" cy="829.5" r="1.85"/>
<circle cx="75.1" cy="832.1" r="1.85"/>
<circle cx="75.6" cy="825.7" r="1.85"/>
<circle cx="76.8" cy="831.1" r="1.85"/>
<circle cx="77.1" cy="825.2" r="1.85"/>
<circle cx="78.2" cy="827.2" r="1.85"/>
<circle cx="78.4" cy="827.0" r="1.85"/>
<circle cx="79.7" cy="826.2" r="1.85"/>
<circle cx="79.9" cy="825.6" r="1.85"/>
<circle cx="80.6" cy="827.4" r="1.85"/>
<circle cx="81.4" cy="831.0" r="1.85"/>
<circle cx="82.0" cy="830.3" r="1.85"/>
<circle cx="82.7" cy="824.2" r="1.85"/>
<circle cx="83.8" cy="823.3" r="1.85"/>
<circle cx="84.4" cy="823.8" r="1.85"/>
<circle cx="85.2" cy="827.4" r="1.85"/>
<circle cx="85.5" cy="821.7" r="1.85"/>
<circle cx="86.5" cy="822.2" r="1.85"/>
<circle cx="87.1" cy="825.2" r="1.85"/>
<circle cx="88.0" cy="824.1" r="1.85"/>
<circle cx="88.3" cy="825.1" r="1.85"/>
<circle cx="89.0" cy="824.7" r="1.85"/>
<circle cx="89.9" cy="825.5" r="1.85"/>
<circle cx="90.4" cy="822.5" r="1.85"/>
<circle cx="91.3" cy="825.4" r="1.85"/>
<circle cx="92.2" cy="829.7" r="1.85"/>
<circle cx="92.7" cy="825.2" r="1.85"/>
<circle cx="93.4" cy="822.5" r="1.85"/>
<circle cx="94.0" cy="820.6" r="1.85"/>
<circle cx="94.8" cy="825.4" r="1.85"/>
<circle cx="95.6" cy="824.0" r="1.85"/>
<circle cx="96.3" cy="827.3" r="1.85"/>
<circle cx="97.0" cy="824.5" r="1.85"/>
<circle cx="97.9" cy="820.4" r="1.85"/>
<circle cx="98.3" cy="829.5" r="1.85"/>
<circle cx="99.0" cy="823.8" r="1.85"/>
<circle cx="99.8" cy="822.8" r="1.85"/>
<circle cx="100.5" cy="820.5" r="1.85"/>
<circle cx="101.0" cy="826.9" r="1.85"/>
<circle cx="101.8" cy="818.6" r="1.85"/>
<circle cx="102.3" cy="821.8" r="1.85"/>
<circle cx="103.2" cy="819.6" r="1.85"/>
<circle cx="104.1" cy="823.5" r="1.85"/>
<circle cx="104.5" cy="823.0" r="1.85"/>
<circle cx="105.3" cy="819.6" r="1.85"/>
<circle cx="105.9" cy="815.0" r="1.85"/>
<circle cx="106.8" cy="821.1" r="1.85"/>
<circle cx="107.6" cy="820.2" r="1.85"/>
<circle cx="108.0" cy="822.9" r="1.85"/>
<circle cx="108.9" cy="818.1" r="1.85"/>
<circle cx="109.2" cy="817.5" r="1.85"/>
<circle cx="110.3" cy="822.8" r="1.85"/>
<circle cx="110.6" cy="818.4" r="1.85"/>
<circle cx="111.5" cy="821.7" r="1.85"/>
<circle cx="112.6" cy="820.1" r="1.85"/>
<circle cx="113.1" cy="817.5" r="1.85"/>
<circle cx="113.9" cy="816.1" r="1.85"/>
<circle cx="114.5" cy="817.0" r="1.85"/>
<circle cx="115.2" cy="817.0" r="1.85"/>
<circle cx="115.9" cy="818.4" r="1.85"/>
<circle cx="116.6" cy="817.0" r="1.85"/>
<circle cx="117.2" cy="817.9" r="1.85"/>
<circle cx="117.7" cy="816.0" r="1.85"/>
<circle cx="118.3" cy="817.3" r="1.85"/>
<circle cx="119.4" cy="810.5" r="1.85"/>
<circle cx="119.9" cy="816.9" r="1.85"/>
<circle cx="120.7" cy="810.6" r="1.85"/>
<circle cx="121.3" cy="812.9" r="1.85"/>
<circle cx="122.0" cy="814.1" r="1.85"/>
<circle cx="122.8" cy="809.6" r="1.85"/>
<circle cx="123.2" cy="808.0" r="1.85"/>
<circle cx="124.2" cy="809.7" r="1.85"/>
<circle cx="125.1" cy="808.0" r="1.85"/>
<circle cx="125.6" cy="807.9" r="1.85"/>
<circle cx="126.0" cy="804.7" r="1.85"/>
<circle cx="126.9" cy="801.6" r="1.85"/>
<circle cx="128.0" cy="801.2" r="1.85"/>
<circle cx="128.4" cy="801.2" r="1.85"/>
<circle cx="129.2" cy="800.8" r="1.85"/>
<circle cx="129.6" cy="799.3" r="1.85"/>
<circle cx="130.2" cy="798.1" r="1.85"/>
<circle cx="131.3" cy="799.2" r="1.85"/>
<circle cx="131.7" cy="797.8" r="1.85"/>
<circle cx="132.8" cy="794.4" r="1.85"/>
<circle cx="133.4" cy="793.2" r="1.85"/>
<circle cx="133.8" cy="792.2" r="1.85"/>
<circle cx="134.4" cy="790.9" r="1.85"/>
<circle cx="135.6" cy="790.6" r="1.85"/>
<circle cx="136.2" cy="788.1" r="1.85"/>
<circle cx="136.6" cy="788.6" r="1.85"/>
<circle cx="137.5" cy="787.9" r="1.85"/>
<circle cx="138.5" cy="788.7" r="1.85"/>
<circle cx="139.0" cy="791.6" r="1.85"/>
<circle cx="139.3" cy="789.7" r="1.85"/>
<circle cx="140.5" cy="787.8" r="1.85"/>
<circle cx="140.7" cy="786.6" r="1.85"/>
<circle cx="141.5" cy="789.1" r="1.85"/>
<circle cx="142.6" cy="786.5" r="1.85"/>
<circle cx="143.0" cy="786.8" r="1.85"/>
<circle cx="143.8" cy="784.7" r="1.85"/>
<circle cx="144.3" cy="787.0" r="1.85"/>
<circle cx="145.4" cy="784.8" r="1.85"/>
<circle cx="146.0" cy="786.6" r="1.85"/>
<circle cx="146.6" cy="782.6" r="1.85"/>
<circle cx="147.6" cy="785.0" r="1.85"/>
<circle cx="148.2" cy="781.7" r="1.85"/>
<circle cx="148.4" cy="781.4" r="1.85"/>
<circle cx="149.7" cy="780.4" r="1.85"/>
<circle cx="150.0" cy="777.9" r="1.85"/>
<circle cx="150.9" cy="781.9" r="1.85"/>
<circle cx="151.6" cy="777.9" r="1.85"/>
<circle cx="152.1" cy="774.6" r="1.85"/>
<circle cx="152.8" cy="776.9" r="1.85"/>
<circle cx="153.7" cy="772.2" r="1.85"/>
<circle cx="154.5" cy="771.5" r="1.85"/>
<circle cx="154.9" cy="772.9" r="1.85"/>
<circle cx="155.7" cy="770.7" r="1.85"/>
<circle cx="156.5" cy="770.5" r="1.85"/>
<circle cx="156.8" cy="765.6" r="1.85"/>
<circle cx="158.0" cy="768.1" r="1.85"/>
<circle cx="158.5" cy="763.8" r="1.85"/>
<circle cx="159.1" cy="766.6" r="1.85"/>
<circle cx="160.0" cy="762.4" r="1.85"/>
<circle cx="160.8" cy="763.1" r="1.85"/>
<circle cx="161.3" cy="762.7" r="1.85"/>
<circle cx="162.2" cy="761.9" r="1.85"/>
<circle cx="163.0" cy="762.0" r="1.85"/>
<circle cx="163.2" cy="758.2" r="1.85"/>
<circle cx="164.1" cy="756.9" r="1.85"/>
<circle cx="164.6" cy="756.2" r="1.85"/>
<circle cx="165.7" cy="756.4" r="1.85"/>
<circle cx="166.2" cy="754.7" r="1.85"/>
<circle cx="167.1" cy="752.6" r="1.85"/>
<circle cx="167.4" cy="748.2" r="1.85"/>
<circle cx="168.5" cy="747.5" r="1.85"/>
<circle cx="169.0" cy="745.7" r="1.85"/>
<circle cx="169.5" cy="745.8" r="1.85"/>
<circle cx="170.2" cy="745.2" r="1.85"/>
<circle cx="171.0" cy="744.8" r="1.85"/>
<circle cx="171.8" cy="741.3" r="1.85"/>
<circle cx="172.3" cy="741.9" r="1.85"/>
<circle cx="172.9" cy="741.0" r="1.85"/>
<circle cx="173.7" cy="738.9" r="1.85"/>
<circle cx="174.7" cy="737.9" r="1.85"/>
<circle cx="175.4" cy="735.8" r="1.85"/>
<circle cx="175.9" cy="734.8" r="1.85"/>
<circle cx="176.4" cy="733.7" r="1.85"/>
<circle cx="177.7" cy="733.1" r="1.85"/>
<circle cx="178.1" cy="730.1" r="1.85"/>
<circle cx="178.7" cy="729.6" r="1.85"/>
<circle cx="179.8" cy="726.8" r="1.85"/>
<circle cx="180.4" cy="727.4" r="1.85"/>
<circle cx="180.8" cy="722.4" r="1.85"/>
<circle cx="181.3" cy="723.4" r="1.85"/>
<circle cx="182.1" cy="722.4" r="1.85"/>
<circle cx="182.7" cy="718.5" r="1.85"/>
<circle cx="183.7" cy="718.3" r="1.85"/>
<circle cx="184.7" cy="718.0" r="1.85"/>
<circle cx="185.2" cy="716.1" r="1.85"/>
<circle cx="185.7" cy="716.7" r="1.85"/>
<circle cx="186.4" cy="715.4" r="1.85"/>
<circle cx="187.2" cy="710.9" r="1.85"/>
<circle cx="188.0" cy="709.5" r="1.85"/>
<circle cx="188.5" cy="709.7" r="1.85"/>
<circle cx="189.6" cy="709.3" r="1.85"/>
<circle cx="190.3" cy="708.0" r="1.85"/>
<circle cx="190.6" cy="707.1" r="1.85"/>
<circle cx="191.3" cy="707.4" r="1.85"/>
<circle cx="192.3" cy="703.3" r="1.85"/>
<circle cx="192.5" cy="704.0" r="1.85"/>
<circle cx="193.6" cy="701.2" r="1.85"/>
<circle cx="194.5" cy="702.3" r="1.85"/>
<circle cx="195.1" cy="701.0" r="1.85"/>
<circle cx="195.9" cy="699.5" r="1.85"/>
<circle cx="196.4" cy="698.1" r="1.85"/>
<circle cx="197.2" cy="698.6" r="1.85"/>
<circle cx="197.6" cy="697.5" r="1.85"/>
<circle cx="198.2" cy="695.1" r="1.85"/>
<circle cx="198.9" cy="694.5" r="1.85"/>
<circle cx="199.6" cy="693.1" r="1.85"/>
<circle cx="200.6" cy="691.7" r="1.85"/>
<circle cx="201.0" cy="693.3" r="1.85"/>
<circle cx="201.7" cy="689.9" r="1.85"/>
<circle cx="202.9" cy="689.7" r="1.85"/>
<circle cx="203.1" cy="684.7" r="1.85"/>
<circle cx="204.0" cy="687.7" r="1.85"/>
<circle cx="204.9" cy="685.7" r="1.85"/>
<circle cx="205.5" cy="681.7" r="1.85"/>
<circle cx="206.3" cy="681.8" r="1.85"/>
<circle cx="206.8" cy="679.7" r="1.85"/>
<circle cx="207.3" cy="678.6" r="1.85"/>
<circle cx="207.9" cy="677.6" r="1.85"/>
<circle cx="208.7" cy="675.3" r="1.85"/>
<circle cx="209.8" cy="675.6" r="1.85"/>
<circle cx="210.1" cy="675.9" r="1.85"/>
<circle cx="210.9" cy="674.1" r="1.85"/>
<circle cx="211.5" cy="671.5" r="1.85"/>
<circle cx="212.4" cy="670.2" r="1.85"/>
<circle cx="212.9" cy="672.7" r="1.85"/>
<circle cx="214.1" cy="671.8" r="1.85"/>
<circle cx="214.6" cy="669.3" r="1.85"/>
<circle cx="215.0" cy="666.4" r="1.85"/>
<circle cx="215.8" cy="666.7" r="1.85"/>
<circle cx="216.4" cy="663.1" r="1.85"/>
<circle cx="217.6" cy="667.6" r="1.85"/>
<circle cx="218.3" cy="664.7" r="1.85"/>
<circle cx="218.9" cy="663.5" r="1.85"/>
<circle cx="219.1" cy="661.8" r="1.85"/>
<circle cx="220.4" cy="660.1" r="1.85"/>
<circle cx="220.5" cy="660.6" r="1.85"/>
<circle cx="221.3" cy="658.2" r="1.85"/>
<circle cx="221.9" cy="659.1" r="1.85"/>
<circle cx="222.7" cy="656.1" r="1.85"/>
<circle cx="223.6" cy="657.3" r="1.85"/>
<circle cx="224.3" cy="655.2" r="1.85"/>
<circle cx="224.8" cy="655.7" r="1.85"/>
<circle cx="225.8" cy="655.8" r="1.85"/>
<circle cx="226.2" cy="653.5" r="1.85"/>
<circle cx="227.2" cy="652.6" r="1.85"/>
<circle cx="227.8" cy="651.5" r="1.85"/>
<circle cx="228.6" cy="651.7" r="1.85"/>
<circle cx="229.3" cy="650.8" r="1.85"/>
<circle cx="229.7" cy="648.0" r="1.85"/>
<circle cx="230.3" cy="648.7" r="1.85"/>
<circle cx="231.4" cy="646.8" r="1.85"/>
<circle cx="231.7" cy="647.8" r="1.85"/>
<circle cx="232.9" cy="645.7" r="1.85"/>
<circle cx="233.6" cy="645.9" r="1.85"/>
<circle cx="234.3" cy="645.5" r="1.85"/>
<circle cx="234.8" cy="645.6" r="1.85"/>
<circle cx="235.3" cy="643.7" r="1.85"/>
<circle cx="236.4" cy="643.3" r="1.85"/>
<circle cx="236.8" cy="643.8" r="1.85"/>
<circle cx="237.7" cy="644.2" r="1.85"/>
<circle cx="238.3" cy="642.1" r="1.85"/>
<circle cx="239.0" cy="643.0" r="1.85"/>
<circle cx="239.9" cy="642.3" r="1.85"/>
<circle cx="240.6" cy="639.6" r="1.85"/>
<circle cx="241.0" cy="641.6" r="1.85"/>
<circle cx="242.0" cy="641.7" r="1.85"/>
<circle cx="242.8" cy="639.7" r="1.85"/>
<circle cx="243.2" cy="636.7" r="1.85"/>
<circle cx="243.9" cy="637.5" r="1.85"/>
<circle cx="244.3" cy="638.0" r="1.85"/>
<circle cx="245.1" cy="636.4" r="1.85"/>
<circle cx="245.8" cy="636.0" r="1.85"/>
<circle cx="246.4" cy="637.7" r="1.85"/>
<circle cx="247.2" cy="634.6" r="1.85"/>
<circle cx="247.8" cy="633.5" r="1.85"/>
<circle cx="248.9" cy="632.4" r="1.85"/>
<circle cx="249.6" cy="632.5" r="1.85"/>
<circle cx="250.0" cy="634.0" r="1.85"/>
<circle cx="250.6" cy="630.6" r="1.85"/>
<circle cx="251.4" cy="630.0" r="1.85"/>
<circle cx="252.2" cy="631.0" r="1.85"/>
<circle cx="252.8" cy="629.7" r="1.85"/>
<circle cx="253.8" cy="630.0" r="1.85"/>
<circle cx="254.6" cy="629.9" r="1.85"/>
<circle cx="255.2" cy="629.5" r="1.85"/>
<circle cx="255.6" cy="628.9" r="1.85"/>
<circle cx="256.4" cy="624.2" r="1.85"/>
<circle cx="257.2" cy="626.9" r="1.85"/>
<circle cx="257.8" cy="624.1" r="1.85"/>
<circle cx="258.9" cy="624.9" r="1.85"/>
<circle cx="259.1" cy="622.9" r="1.85"/>
<circle cx="259.9" cy="620.3" r="1.85"/>
<circle cx="260.9" cy="624.5" r="1.85"/>
<circle cx="261.6" cy="623.6" r="1.85"/>
<circle cx="261.8" cy="619.9" r="1.85"/>
<circle cx="262.8" cy="624.4" r="1.85"/>
<circle cx="263.3" cy="620.4" r="1.85"/>
<circle cx="264.2" cy="619.8" r="1.85"/>
<circle cx="264.9" cy="619.3" r="1.85"/>
<circle cx="265.3" cy="618.3" r="1.85"/>
<circle cx="266.0" cy="619.8" r="1.85"/>
<circle cx="266.8" cy="620.9" r="1.85"/>
<circle cx="268.0" cy="618.0" r="1.85"/>
<circle cx="268.5" cy="618.9" r="1.85"/>
<circle cx="269.3" cy="615.1" r="1.85"/>
<circle cx="269.5" cy="616.5" r="1.85"/>
<circle cx="270.6" cy="615.9" r="1.85"/>
<circle cx="271.1" cy="613.5" r="1.85"/>
<circle cx="272.0" cy="615.1" r="1.85"/>
<circle cx="272.5" cy="614.0" r="1.85"/>
<circle cx="273.6" cy="614.7" r="1.85"/>
<circle cx="273.9" cy="613.7" r="1.85"/>
<circle cx="274.5" cy="615.5" r="1.85"/>
<circle cx="275.5" cy="614.7" r="1.85"/>
<circle cx="276.0" cy="612.3" r="1.85"/>
<circle cx="276.8" cy="611.5" r="1.85"/>
<circle cx="277.3" cy="611.5" r="1.85"/>
<circle cx="278.0" cy="610.7" r="1.85"/>
<circle cx="278.8" cy="611.8" r="1.85"/>
<circle cx="279.4" cy="611.3" r="1.85"/>
<circle cx="280.5" cy="610.3" r="1.85"/>
<circle cx="281.1" cy="607.5" r="1.85"/>
<circle cx="281.5" cy="607.9" r="1.85"/>
<circle cx="282.5" cy="606.7" r="1.85"/>
<circle cx="283.2" cy="608.2" r="1.85"/>
<circle cx="283.8" cy="607.1" r="1.85"/>
<circle cx="284.3" cy="607.9" r="1.85"/>
<circle cx="285.2" cy="605.3" r="1.85"/>
<circle cx="285.6" cy="607.3" r="1.85"/>
<circle cx="286.5" cy="606.3" r="1.85"/>
<circle cx="287.3" cy="604.6" r="1.85"/>
<circle cx="288.0" cy="604.1" r="1.85"/>
<circle cx="288.6" cy="608.1" r="1.85"/>
<circle cx="289.6" cy="604.3" r="1.85"/>
<circle cx="290.3" cy="603.9" r="1.85"/>
<circle cx="290.8" cy="604.2" r="1.85"/>
<circle cx="291.5" cy="603.1" r="1.85"/>
<circle cx="292.3" cy="602.9" r="1.85"/>
<circle cx="293.2" cy="602.3" r="1.85"/>
<circle cx="293.7" cy="601.9" r="1.85"/>
<circle cx="294.2" cy="601.7" r="1.85"/>
<circle cx="295.1" cy="598.5" r="1.85"/>
<circle cx="295.9" cy="598.3" r="1.85"/>
<circle cx="296.4" cy="599.3" r="1.85"/>
<circle cx="297.3" cy="596.9" r="1.85"/>
<circle cx="297.8" cy="599.0" r="1.85"/>
<circle cx="298.7" cy="596.2" r="1.85"/>
<circle cx="299.0" cy="597.8" r="1.85"/>
<circle cx="300.1" cy="597.2" r="1.85"/>
<circle cx="300.7" cy="593.7" r="1.85"/>
<circle cx="301.3" cy="596.5" r="1.85"/>
<circle cx="302.0" cy="596.6" r="1.85"/>
<circle cx="302.8" cy="593.1" r="1.85"/>
<circle cx="303.3" cy="593.9" r="1.85"/>
<circle cx="304.2" cy="595.2" r="1.85"/>
<circle cx="304.7" cy="593.2" r="1.85"/>
<circle cx="305.4" cy="595.0" r="1.85"/>
<circle cx="306.1" cy="594.1" r="1.85"/>
<circle cx="306.9" cy="590.8" r="1.85"/>
<circle cx="307.6" cy="593.3" r="1.85"/>
<circle cx="308.1" cy="593.5" r="1.85"/>
<circle cx="309.0" cy="591.7" r="1.85"/>
<circle cx="310.0" cy="591.5" r="1.85"/>
<circle cx="310.3" cy="592.7" r="1.85"/>
<circle cx="311.4" cy="589.1" r="1.85"/>
<circle cx="311.6" cy="588.3" r="1.85"/>
<circle cx="312.2" cy="591.6" r="1.85"/>
<circle cx="312.9" cy="588.7" r="1.85"/>
<circle cx="314.2" cy="589.1" r="1.85"/>
<circle cx="314.8" cy="585.0" r="1.85"/>
<circle cx="315.3" cy="587.9" r="1.85"/>
<circle cx="316.0" cy="588.1" r="1.85"/>
<circle cx="316.6" cy="587.1" r="1.85"/>
<circle cx="317.5" cy="586.1" r="1.85"/>
<circle cx="318.2" cy="590.0" r="1.85"/>
<circle cx="318.8" cy="588.2" r="1.85"/>
<circle cx="319.4" cy="587.6" r="1.85"/>
<circle cx="320.2" cy="584.2" r="1.85"/>
<circle cx="321.2" cy="585.0" r="1.85"/>
<circle cx="321.6" cy="584.2" r="1.85"/>
<circle cx="322.6" cy="586.1" r="1.85"/>
<circle cx="322.9" cy="582.8" r="1.85"/>
<circle cx="323.5" cy="584.3" r="1.85"/>
<circle cx="324.3" cy="586.7" r="1.85"/>
<circle cx="325.1" cy="583.7" r="1.85"/>
<circle cx="325.6" cy="585.2" r="1.85"/>
<circle cx="326.7" cy="582.2" r="1.85"/>
<circle cx="327.5" cy="584.0" r="1.85"/>
<circle cx="327.7" cy="581.8" r="1.85"/>
<circle cx="328.5" cy="580.8" r="1.85"/>
<circle cx="329.1" cy="581.8" r="1.85"/>
<circle cx="329.8" cy="580.4" r="1.85"/>
<circle cx="330.6" cy="580.0" r="1.85"/>
<circle cx="331.7" cy="580.7" r="1.85"/>
<circle cx="332.0" cy="580.3" r="1.85"/>
<circle cx="333.0" cy="579.6" r="1.85"/>
<circle cx="333.2" cy="581.8" r="1.85"/>
<circle cx="334.1" cy="580.7" r="1.85"/>
<circle cx="335.0" cy="578.2" r="1.85"/>
<circle cx="335.4" cy="577.8" r="1.85"/>
<circle cx="336.2" cy="579.2" r="1.85"/>
<circle cx="337.1" cy="574.8" r="1.85"/>
<circle cx="337.7" cy="577.9" r="1.85"/>
<circle cx="338.3" cy="579.1" r="1.85"/>
<circle cx="339.3" cy="578.9" r="1.85"/>
<circle cx="339.6" cy="578.8" r="1.85"/>
<circle cx="340.5" cy="578.6" r="1.85"/>
<circle cx="341.4" cy="576.6" r="1.85"/>
<circle cx="341.6" cy="576.9" r="1.85"/>
<circle cx="342.3" cy="578.6" r="1.85"/>
<circle cx="343.4" cy="577.5" r="1.85"/>
<circle cx="343.9" cy="579.1" r="1.85"/>
<circle cx="344.5" cy="579.6" r="1.85"/>
<circle cx="345.6" cy="577.9" r="1.85"/>
<circle cx="346.1" cy="578.4" r="1.85"/>
<circle cx="346.7" cy="581.5" r="1.85"/>
<circle cx="347.5" cy="580.0" r="1.85"/>
<circle cx="348.5" cy="577.4" r="1.85"/>
<circle cx="348.7" cy="579.5" r="1.85"/>
<circle cx="349.3" cy="580.8" r="1.85"/>
<circle cx="350.2" cy="577.3" r="1.85"/>
<circle cx="351.2" cy="578.5" r="1.85"/>
<circle cx="351.8" cy="576.9" r="1.85"/>
<circle cx="352.7" cy="574.6" r="1.85"/>
<circle cx="352.9" cy="577.5" r="1.85"/>
<circle cx="353.7" cy="577.0" r="1.85"/>
<circle cx="354.4" cy="576.0" r="1.85"/>
<circle cx="355.4" cy="574.1" r="1.85"/>
<circle cx="355.7" cy="575.8" r="1.85"/>
<circle cx="356.4" cy="574.5" r="1.85"/>
<circle cx="357.6" cy="575.0" r="1.85"/>
<circle cx="357.9" cy="573.1" r="1.85"/>
<circle cx="358.7" cy="572.8" r="1.85"/>
<circle cx="359.3" cy="572.1" r="1.85"/>
<circle cx="359.9" cy="572.1" r="1.85"/>
<circle cx="361.0" cy="570.6" r="1.85"/>
<circle cx="361.3" cy="571.3" r="1.85"/>
<circle cx="362.1" cy="570.1" r="1.85"/>
<circle cx="363.0" cy="569.9" r="1.85"/>
<circle cx="363.5" cy="570.1" r="1.85"/>
<circle cx="364.1" cy="570.1" r="1.85"/>
<circle cx="364.9" cy="568.3" r="1.85"/>
<circle cx="365.7" cy="566.9" r="1.85"/>
<circle cx="366.6" cy="567.2" r="1.85"/>
<circle cx="367.0" cy="566.2" r="1.85"/>
<circle cx="367.9" cy="564.5" r="1.85"/>
<circle cx="368.3" cy="568.8" r="1.85"/>
<circle cx="369.5" cy="565.6" r="1.85"/>
<circle cx="369.9" cy="566.3" r="1.85"/>
<circle cx="370.4" cy="566.0" r="1.85"/>
<circle cx="371.5" cy="565.2" r="1.85"/>
<circle cx="372.1" cy="565.3" r="1.85"/>
<circle cx="372.8" cy="566.5" r="1.85"/>
<circle cx="373.2" cy="566.2" r="1.85"/>
<circle cx="374.1" cy="565.1" r="1.85"/>
<circle cx="374.8" cy="565.2" r="1.85"/>
<circle cx="375.4" cy="567.4" r="1.85"/>
<circle cx="376.3" cy="564.1" r="1.85"/>
<circle cx="376.8" cy="564.5" r="1.85"/>
<circle cx="377.4" cy="565.9" r="1.85"/>
<circle cx="378.2" cy="566.8" r="1.85"/>
<circle cx="379.1" cy="565.7" r="1.85"/>
<circle cx="379.6" cy="565.3" r="1.85"/>
<circle cx="380.4" cy="564.0" r="1.85"/>
<circle cx="381.0" cy="564.4" r="1.85"/>
<circle cx="381.6" cy="565.2" r="1.85"/>
<circle cx="382.4" cy="565.0" r="1.85"/>
<circle cx="383.1" cy="565.3" r="1.85"/>
<circle cx="384.1" cy="562.1" r="1.85"/>
<circle cx="384.8" cy="563.8" r="1.85"/>
<circle cx="385.0" cy="563.7" r="1.85"/>
<circle cx="386.1" cy="562.2" r="1.85"/>
<circle cx="386.6" cy="561.6" r="1.85"/>
<circle cx="387.5" cy="562.1" r="1.85"/>
<circle cx="388.3" cy="561.4" r="1.85"/>
<circle cx="388.7" cy="561.6" r="1.85"/>
<circle cx="389.3" cy="561.4" r="1.85"/>
<circle cx="390.4" cy="561.7" r="1.85"/>
<circle cx="390.6" cy="559.8" r="1.85"/>
<circle cx="391.3" cy="562.0" r="1.85"/>
<circle cx="392.2" cy="562.1" r="1.85"/>
<circle cx="392.9" cy="562.3" r="1.85"/>
<circle cx="393.8" cy="561.4" r="1.85"/>
<circle cx="394.2" cy="561.9" r="1.85"/>
<circle cx="395.2" cy="559.5" r="1.85"/>
<circle cx="395.7" cy="559.0" r="1.85"/>
<circle cx="396.4" cy="561.4" r="1.85"/>
<circle cx="396.9" cy="561.6" r="1.85"/>
<circle cx="397.8" cy="558.5" r="1.85"/>
<circle cx="398.3" cy="561.2" r="1.85"/>
<circle cx="399.0" cy="558.7" r="1.85"/>
<circle cx="399.8" cy="561.6" r="1.85"/>
<circle cx="400.5" cy="561.2" r="1.85"/>
<circle cx="401.6" cy="559.6" r="1.85"/>
<circle cx="402.2" cy="559.0" r="1.85"/>
<circle cx="402.7" cy="559.3" r="1.85"/>
<circle cx="403.4" cy="556.9" r="1.85"/>
<circle cx="404.0" cy="560.3" r="1.85"/>
<circle cx="405.2" cy="558.5" r="1.85"/>
<circle cx="405.7" cy="558.6" r="1.85"/>
<circle cx="406.4" cy="556.3" r="1.85"/>
<circle cx="407.0" cy="560.4" r="1.85"/>
<circle cx="407.7" cy="559.1" r="1.85"/>
<circle cx="408.4" cy="558.9" r="1.85"/>
<circle cx="409.3" cy="557.9" r="1.85"/>
<circle cx="409.5" cy="557.3" r="1.85"/>
<circle cx="410.4" cy="555.7" r="1.85"/>
<circle cx="411.2" cy="559.4" r="1.85"/>
<circle cx="411.9" cy="557.0" r="1.85"/>
<circle cx="412.4" cy="558.2" r="1.85"/>
<circle cx="413.2" cy="557.2" r="1.85"/>
<circle cx="413.8" cy="556.3" r="1.85"/>
<circle cx="414.8" cy="556.9" r="1.85"/>
<circle cx="415.5" cy="556.0" r="1.85"/>
</g>
<line x1="282.30" y1="629.50" x2="388.20" y2="629.50" stroke="#000" stroke-width="1.15" />
<text x="390.30" y="633.30" font-size="9.60" fill="#111" text-anchor="start" font-weight="normal" font-style="normal" textLength="25.99" lengthAdjust="spacingAndGlyphs" >2° CB</text>
<line x1="282.30" y1="651.50" x2="388.20" y2="651.50" stroke="#000" stroke-width="1.15" />
<text x="390.10" y="655.10" font-size="9.60" fill="#111" text-anchor="start" font-weight="normal" font-style="normal" textLength="24.93" lengthAdjust="spacingAndGlyphs" >1° CB</text>
<line x1="282.30" y1="767.50" x2="388.20" y2="767.50" stroke="#000" stroke-width="1.15" />
<text x="388.50" y="769.80" font-size="9.60" fill="#111" text-anchor="start" font-weight="normal" font-style="normal" textLength="24.50" lengthAdjust="spacingAndGlyphs" >1° VB</text>
<line x1="282.30" y1="806.50" x2="388.20" y2="806.50" stroke="#000" stroke-width="1.15" />
<text x="388.30" y="809.00" font-size="9.60" fill="#111" text-anchor="start" font-weight="normal" font-style="normal" textLength="25.55" lengthAdjust="spacingAndGlyphs" >2° VB</text>
<line x1="282.30" y1="825.50" x2="388.20" y2="825.50" stroke="#000" stroke-width="1.15" />
<text x="388.50" y="829.50" font-size="9.60" fill="#111" text-anchor="start" font-weight="normal" font-style="normal" textLength="24.93" lengthAdjust="spacingAndGlyphs" >3° VB</text>
<line x1="287.20" y1="654.00" x2="287.20" y2="763.00" stroke="#e8141c" stroke-width="1.1" stroke-dasharray="1.2 1.2"/>
<polygon points="284.9,656.3 289.5,656.3 287.2,652.2" fill="#e8141c"/>
<polygon points="284.7,763 289.7,763 287.2,766.8" fill="#e8141c"/>
<line x1="311.00" y1="651.50" x2="311.00" y2="806.20" stroke="#2aa84a" stroke-width="1.1" />
<polyline points="309.0,655.4 311.0,651.8 313.0,655.4" fill="none" stroke="#2aa84a" stroke-width="1.0"/>
<polyline points="309.0,763.1999999999999 311.0,766.8 313.0,763.1999999999999" fill="none" stroke="#2aa84a" stroke-width="1.0"/>
<polyline points="309.0,771.6 311.0,768.0 313.0,771.6" fill="none" stroke="#2aa84a" stroke-width="1.0"/>
<polyline points="309.0,802.3 311.0,805.9 313.0,802.3" fill="none" stroke="#2aa84a" stroke-width="1.0"/>
<line x1="335.60" y1="651.50" x2="335.60" y2="825.20" stroke="#4646b4" stroke-width="1.1" />
<polyline points="333.6,655.4 335.6,651.8 337.6,655.4" fill="none" stroke="#4646b4" stroke-width="1.0"/>
<polyline points="333.6,810.8000000000001 335.6,807.2 337.6,810.8000000000001" fill="none" stroke="#4646b4" stroke-width="1.0"/>
<polyline points="333.6,821.4 335.6,825.0 337.6,821.4" fill="none" stroke="#4646b4" stroke-width="1.0"/>
<line x1="359.80" y1="629.60" x2="359.80" y2="766.90" stroke="#888" stroke-width="1.1" />
<polyline points="357.8,633.4 359.8,629.8 361.8,633.4" fill="none" stroke="#888" stroke-width="1.0"/>
<polyline points="357.8,763.0 359.8,766.6 361.8,763.0" fill="none" stroke="#888" stroke-width="1.0"/>
<text x="273.60" y="672.20" font-size="11.50" fill="#111" text-anchor="start" font-weight="normal" font-style="normal" >A</text>
<text x="298.40" y="672.10" font-size="11.50" fill="#111" text-anchor="start" font-weight="normal" font-style="normal" >B</text>
<text x="322.30" y="671.70" font-size="11.50" fill="#111" text-anchor="start" font-weight="normal" font-style="normal" >C</text>
<text x="346.70" y="671.70" font-size="11.50" fill="#111" text-anchor="start" font-weight="normal" font-style="normal" >D</text>
<text x="283.20" y="736.20" font-size="14.70" fill="#e8141c" text-anchor="start" font-weight="bold" font-style="normal" textLength="44.33" lengthAdjust="spacingAndGlyphs" transform="rotate(-90 283.20 736.20)" >2.19 eV</text>
<text x="307.40" y="735.10" font-size="14.70" fill="#2aa84a" text-anchor="start" font-weight="bold" font-style="normal" textLength="44.94" lengthAdjust="spacingAndGlyphs" transform="rotate(-90 307.40 735.10)" >2.30 eV</text>
<text x="332.40" y="735.10" font-size="14.70" fill="#4646b4" text-anchor="start" font-weight="bold" font-style="normal" textLength="43.92" lengthAdjust="spacingAndGlyphs" transform="rotate(-90 332.40 735.10)" >2.33 eV</text>
<text x="356.40" y="735.90" font-size="14.70" fill="#888" text-anchor="start" font-weight="normal" font-style="normal" textLength="45.31" lengthAdjust="spacingAndGlyphs" transform="rotate(-90 356.40 735.90)" >2.54 eV</text>
<text x="265.60" y="789.20" font-size="10.60" fill="#2aa84a" text-anchor="start" font-weight="bold" font-style="italic" textLength="40.35" lengthAdjust="spacingAndGlyphs" >110 meV</text>
<text x="292.90" y="820.10" font-size="10.40" fill="#4646b4" text-anchor="start" font-weight="bold" font-style="italic" textLength="33.91" lengthAdjust="spacingAndGlyphs" >30 meV</text>
<line x1="479.40" y1="527.00" x2="673.80" y2="527.00" stroke="#888" stroke-width="1.0" />
<line x1="479.40" y1="527.00" x2="479.40" y2="877.20" stroke="#888" stroke-width="1.0" />
<line x1="479.40" y1="877.20" x2="673.80" y2="877.20" stroke="#888" stroke-width="1.0" />
<line x1="673.80" y1="527.00" x2="673.80" y2="877.20" stroke="#888" stroke-width="1.0" />
<line x1="479.40" y1="527.40" x2="483.60" y2="527.40" stroke="#888" stroke-width="0.9" />
<text x="474.50" y="531.00" font-size="10.00" fill="#111" text-anchor="end" font-weight="normal" font-style="normal" >4</text>
<line x1="479.40" y1="597.40" x2="483.60" y2="597.40" stroke="#888" stroke-width="0.9" />
<text x="474.50" y="601.00" font-size="10.00" fill="#111" text-anchor="end" font-weight="normal" font-style="normal" >3</text>
<line x1="479.40" y1="667.40" x2="483.60" y2="667.40" stroke="#888" stroke-width="0.9" />
<text x="474.50" y="671.00" font-size="10.00" fill="#111" text-anchor="end" font-weight="normal" font-style="normal" >2</text>
<line x1="479.40" y1="737.40" x2="483.60" y2="737.40" stroke="#888" stroke-width="0.9" />
<text x="474.50" y="741.00" font-size="10.00" fill="#111" text-anchor="end" font-weight="normal" font-style="normal" >1</text>
<line x1="479.40" y1="807.40" x2="483.60" y2="807.40" stroke="#888" stroke-width="0.9" />
<text x="474.50" y="811.00" font-size="10.00" fill="#111" text-anchor="end" font-weight="normal" font-style="normal" >0</text>
<line x1="479.40" y1="877.40" x2="483.60" y2="877.40" stroke="#888" stroke-width="0.9" />
<text x="474.50" y="881.00" font-size="10.00" fill="#111" text-anchor="end" font-weight="normal" font-style="normal" >-1</text>
<text x="457.00" y="727.20" font-size="10.10" fill="#111" text-anchor="start" font-weight="normal" font-style="normal" textLength="50.24" lengthAdjust="spacingAndGlyphs" transform="rotate(-90 457.00 727.20)" >Energy (eV)</text>
<text x="432.10" y="580.50" font-size="29.00" fill="#000" text-anchor="start" font-weight="normal" font-style="normal" textLength="25.56" lengthAdjust="spacingAndGlyphs" >c)</text>
<text x="479.00" y="892.60" font-size="10.00" fill="#111" text-anchor="middle" font-weight="normal" font-style="normal" >A</text>
<text x="542.80" y="892.60" font-size="10.00" fill="#111" text-anchor="middle" font-weight="normal" font-style="normal" >Γ</text>
<text x="672.80" y="892.60" font-size="10.00" fill="#111" text-anchor="middle" font-weight="normal" font-style="normal" >M</text>
<line x1="542.50" y1="526.00" x2="542.50" y2="877.20" stroke="#444" stroke-width="1.2" stroke-dasharray="3.2 5.07"/>
<line x1="551.10" y1="615.70" x2="672.80" y2="615.70" stroke="#c4c4c4" stroke-width="1.1" stroke-dasharray="3 5.2"/>
<line x1="551.10" y1="660.40" x2="672.80" y2="660.40" stroke="#c4c4c4" stroke-width="1.1" stroke-dasharray="3 5.2"/>
<line x1="551.10" y1="807.40" x2="672.80" y2="807.40" stroke="#c4c4c4" stroke-width="1.1" stroke-dasharray="3 5.2"/>
<line x1="551.10" y1="826.40" x2="672.80" y2="826.40" stroke="#c4c4c4" stroke-width="1.1" stroke-dasharray="3 5.2"/>
<line x1="551.10" y1="833.20" x2="672.80" y2="833.20" stroke="#c4c4c4" stroke-width="1.1" stroke-dasharray="3 5.2"/>
<text x="660.30" y="610.80" font-size="10.00" fill="#222" text-anchor="start" font-weight="normal" font-style="normal" >Γ</text>
<text x="664.60" y="613.00" font-size="8.40" fill="#222" text-anchor="start" font-weight="normal" font-style="normal" >8</text>
<text x="660.30" y="655.30" font-size="10.00" fill="#222" text-anchor="start" font-weight="normal" font-style="normal" >Γ</text>
<text x="664.60" y="657.50" font-size="8.40" fill="#222" text-anchor="start" font-weight="normal" font-style="normal" >7</text>
<text x="660.30" y="803.00" font-size="10.00" fill="#222" text-anchor="start" font-weight="normal" font-style="normal" >Γ</text>
<text x="664.60" y="805.20" font-size="8.40" fill="#222" text-anchor="start" font-weight="normal" font-style="normal" >9</text>
<text x="660.30" y="821.70" font-size="10.00" fill="#222" text-anchor="start" font-weight="normal" font-style="normal" >Γ</text>
<text x="664.60" y="823.90" font-size="8.40" fill="#222" text-anchor="start" font-weight="normal" font-style="normal" >7</text>
<text x="660.30" y="842.70" font-size="10.00" fill="#222" text-anchor="start" font-weight="normal" font-style="normal" >Γ</text>
<text x="664.60" y="844.90" font-size="8.40" fill="#222" text-anchor="start" font-weight="normal" font-style="normal" >7</text>
<g fill="none" stroke="#e0262b" stroke-width="1.15" clip-path="url(#cclip)">
<path d="M479.3,600.8 C480.4,598.8 483.5,592.8 485.7,589.1 C487.9,585.4 490.2,582.0 492.4,578.4 C494.6,574.8 496.8,570.9 499.0,567.7 C501.2,564.5 503.8,560.9 505.7,559.0 C507.6,557.1 508.8,556.4 510.4,556.3 C512.0,556.2 513.4,556.3 515.1,558.4 C516.8,560.5 518.6,564.5 520.4,569.0 C522.2,573.5 523.9,580.0 525.7,585.1 C527.5,590.2 529.3,595.5 531.1,599.7 C532.9,603.9 534.9,608.0 536.4,610.4 C537.9,612.8 538.9,613.5 540.0,614.4 C541.1,615.3 542.0,615.9 543.2,615.7 C544.4,615.5 546.0,614.6 547.4,613.3 C548.8,612.0 550.2,610.2 551.6,608.1 C553.0,606.0 554.6,603.0 555.9,600.7 C557.1,598.4 557.9,597.1 559.1,594.5 C560.3,591.9 561.8,588.2 563.2,585.3 C564.6,582.4 565.9,579.8 567.3,577.1 C568.7,574.4 570.0,571.5 571.4,568.9 C572.8,566.3 574.0,564.0 575.4,561.8 C576.8,559.6 578.1,557.8 579.5,555.7 C580.9,553.7 582.2,551.4 583.6,549.5 C585.0,547.6 586.3,545.9 587.7,544.4 C589.1,542.9 590.1,541.8 591.8,540.3 C593.5,538.8 595.9,537.1 597.9,535.7 C599.9,534.4 602.0,533.1 604.0,532.2 C606.0,531.3 608.2,530.6 610.2,530.1 C612.2,529.6 614.3,529.4 616.3,529.3 C618.3,529.2 620.1,529.1 622.4,529.6 C624.7,530.1 626.2,530.8 630.1,532.3 C634.0,533.8 641.1,536.9 645.8,538.5 C650.5,540.1 653.6,540.9 658.3,541.7 C663.0,542.5 671.4,543.0 674.0,543.2"/>
<path d="M479.3,600.8 C480.4,602.4 483.5,607.2 485.7,610.4 C487.9,613.6 489.7,616.2 492.4,619.8 C495.1,623.4 498.6,628.0 501.7,631.8 C504.8,635.6 507.9,639.3 511.0,642.5 C514.1,645.7 517.3,648.7 520.4,651.1 C523.5,653.5 526.8,655.7 529.7,657.1 C532.6,658.5 535.6,659.2 537.8,659.8 C539.9,660.3 541.2,660.6 542.6,660.4 C544.0,660.2 545.0,659.9 546.3,658.8 C547.6,657.6 549.2,655.8 550.6,653.5 C552.0,651.2 553.4,648.5 554.8,645.1 C556.2,641.8 557.6,637.6 559.0,633.4 C560.4,629.2 561.9,624.3 563.3,619.7 C564.7,615.1 566.1,610.2 567.5,605.9 C568.9,601.6 570.3,597.1 571.7,593.8 C573.1,590.5 574.1,587.9 575.9,585.9 C577.7,583.9 579.9,582.0 582.3,581.9 C584.6,581.8 587.6,583.5 590.0,585.1 C592.4,586.7 594.4,589.4 596.6,591.7 C598.8,594.0 600.9,596.5 603.1,598.9 C605.3,601.3 607.5,603.8 609.7,606.1 C611.9,608.4 614.1,610.5 616.3,612.7 C618.5,614.9 620.6,617.2 622.8,619.3 C625.0,621.4 627.2,623.4 629.4,625.2 C631.6,627.1 633.8,628.9 636.0,630.4 C638.2,631.9 640.4,633.2 642.6,634.4 C644.8,635.6 646.9,636.7 649.1,637.7 C651.3,638.7 653.5,639.6 655.7,640.3 C657.9,640.9 659.2,641.2 662.3,641.6 C665.3,642.0 672.0,642.3 674.0,642.4"/>
<path d="M479.6,861.1 C480.7,860.0 483.4,857.2 486.2,854.2 C489.0,851.2 493.0,846.6 496.4,842.9 C499.8,839.1 503.3,835.4 506.7,831.7 C510.1,828.0 513.5,824.1 516.9,820.9 C520.3,817.7 524.0,814.4 527.1,812.3 C530.2,810.2 532.8,809.1 535.3,808.2 C537.8,807.4 540.2,807.2 541.9,807.2 C543.6,807.2 544.3,807.5 545.5,808.4 C546.7,809.3 548.0,810.5 549.2,812.5 C550.4,814.5 551.7,818.1 552.8,820.5 C553.9,822.9 554.7,825.2 555.6,826.8 C556.5,828.4 557.0,828.9 558.0,829.9 C559.0,830.9 559.8,831.0 561.9,832.5 C564.0,834.0 567.8,836.3 570.7,838.8 C573.6,841.3 576.5,844.2 579.4,847.4 C582.3,850.6 584.8,854.2 588.2,857.9 C591.6,861.6 596.5,866.4 599.6,869.7 C602.7,873.0 605.4,876.3 606.6,877.6"/>
<path d="M483.2,876.8 C484.1,875.8 486.1,873.0 488.3,870.5 C490.5,868.0 493.3,865.2 496.4,861.8 C499.5,858.4 503.3,853.7 506.7,850.1 C510.1,846.5 513.5,843.3 516.9,840.4 C520.3,837.5 524.0,834.8 527.1,832.7 C530.2,830.7 532.8,829.1 535.3,828.1 C537.8,827.1 540.1,827.0 541.9,826.8 C543.7,826.6 544.7,826.7 546.0,826.8 C547.3,826.9 548.2,827.0 549.5,827.3 C550.8,827.6 552.8,828.0 554.0,828.8 C555.2,829.6 556.0,830.8 557.0,831.9 C558.0,833.0 558.5,834.2 560.0,835.6 C561.5,837.0 563.8,838.3 566.3,840.4 C568.8,842.5 572.1,845.4 575.0,848.3 C577.9,851.2 580.6,853.7 583.8,857.9 C587.0,862.1 592.1,870.4 594.3,873.7 C596.5,877.0 596.5,877.0 597.0,877.6"/>
<path d="M557.3,833.5 C557.8,834.1 558.5,835.9 560.0,837.3 C561.5,838.7 563.8,840.0 566.3,842.1 C568.8,844.2 572.1,847.1 575.0,850.0 C577.9,852.9 580.9,855.6 583.8,859.6 C586.7,863.6 590.7,870.7 592.6,873.7 C594.5,876.7 594.8,877.0 595.3,877.6"/>
<path d="M525.1,877.6 C525.6,874.9 526.9,866.6 528.1,861.3 C529.3,856.0 530.8,849.9 532.2,846.0 C533.6,842.1 534.9,839.8 536.3,837.8 C537.7,835.8 539.2,834.5 540.4,833.7 C541.6,832.9 542.0,832.9 543.4,832.9 C544.8,832.9 546.9,833.2 548.8,833.8 C550.7,834.4 553.3,835.2 554.9,836.5 C556.5,837.8 557.2,838.8 558.4,841.3 C559.6,843.8 560.9,848.4 561.9,851.8 C562.9,855.1 563.5,857.5 564.5,861.4 C565.5,865.3 567.0,872.3 567.6,875.0 C568.2,877.7 568.0,877.2 568.1,877.6"/>
<path d="M479.6,861.1 C482.0,863.7 491.4,874.0 493.9,876.8 C496.4,879.5 494.6,877.5 494.7,877.6"/>
</g>
</svg>
</body></html>
